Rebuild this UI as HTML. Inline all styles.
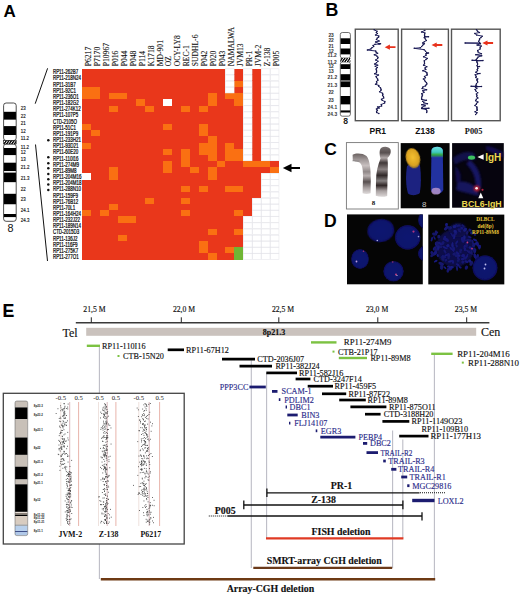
<!DOCTYPE html>
<html><head><meta charset="utf-8"><style>
html,body{margin:0;padding:0;background:#fff;}
body{width:520px;height:597px;overflow:hidden;font-family:"Liberation Sans",sans-serif;}
svg{display:block;}
</style></head><body>
<svg width="520" height="597" viewBox="0 0 520 597">
<text x="3.40" y="16.70" font-family="Liberation Sans" font-size="17" font-weight="bold" fill="#000" text-anchor="start" >A</text>
<g shape-rendering="crispEdges">
<rect x="82.20" y="68.60" width="197.01" height="190.99" fill="#e9371b" />
<rect x="225.48" y="68.6" width="8.96" height="6.16" fill="#fff"/>
<rect x="243.39" y="68.6" width="8.96" height="6.16" fill="#fff"/>
<rect x="261.3" y="68.6" width="8.95" height="6.16" fill="#fff"/>
<rect x="270.25" y="68.6" width="8.96" height="6.16" fill="#fff"/>
<rect x="225.48" y="74.76" width="8.96" height="6.16" fill="#fff"/>
<rect x="243.39" y="74.76" width="8.96" height="6.16" fill="#fff"/>
<rect x="261.3" y="74.76" width="8.95" height="6.16" fill="#fff"/>
<rect x="270.25" y="74.76" width="8.96" height="6.16" fill="#fff"/>
<rect x="225.48" y="80.92" width="8.96" height="6.16" fill="#fff"/>
<rect x="234.44" y="80.92" width="8.95" height="6.16" fill="#fa7012"/>
<rect x="243.39" y="80.92" width="8.96" height="6.16" fill="#fff"/>
<rect x="261.3" y="80.92" width="8.95" height="6.16" fill="#fff"/>
<rect x="270.25" y="80.92" width="8.96" height="6.16" fill="#fff"/>
<rect x="82.2" y="87.08" width="8.96" height="6.16" fill="#fa7012"/>
<rect x="91.16" y="87.08" width="8.95" height="6.16" fill="#fa7012"/>
<rect x="225.48" y="87.08" width="8.96" height="6.16" fill="#fff"/>
<rect x="243.39" y="87.08" width="8.96" height="6.16" fill="#fff"/>
<rect x="261.3" y="87.08" width="8.95" height="6.16" fill="#fff"/>
<rect x="270.25" y="87.08" width="8.96" height="6.16" fill="#fff"/>
<rect x="82.2" y="93.24" width="8.96" height="6.17" fill="#fa7012"/>
<rect x="91.16" y="93.24" width="8.95" height="6.17" fill="#fa7012"/>
<rect x="109.06" y="93.24" width="8.96" height="6.17" fill="#fa7012"/>
<rect x="118.02" y="93.24" width="8.95" height="6.17" fill="#fa7012"/>
<rect x="207.57" y="93.24" width="8.95" height="6.17" fill="#fa7012"/>
<rect x="225.48" y="93.24" width="8.96" height="6.17" fill="#fa7012"/>
<rect x="234.44" y="93.24" width="8.95" height="6.17" fill="#fa7012"/>
<rect x="243.39" y="93.24" width="8.96" height="6.17" fill="#fff"/>
<rect x="261.3" y="93.24" width="8.95" height="6.17" fill="#fff"/>
<rect x="270.25" y="93.24" width="8.96" height="6.17" fill="#fff"/>
<rect x="135.93" y="99.41" width="8.95" height="6.16" fill="#fa7012"/>
<rect x="162.8" y="99.41" width="8.95" height="6.16" fill="#fff"/>
<rect x="207.57" y="99.41" width="8.95" height="6.16" fill="#fa7012"/>
<rect x="234.44" y="99.41" width="8.95" height="6.16" fill="#fa7012"/>
<rect x="243.39" y="99.41" width="8.96" height="6.16" fill="#fff"/>
<rect x="261.3" y="99.41" width="8.95" height="6.16" fill="#fff"/>
<rect x="270.25" y="99.41" width="8.96" height="6.16" fill="#fff"/>
<rect x="109.06" y="105.57" width="8.96" height="6.16" fill="#fa7012"/>
<rect x="144.88" y="105.57" width="8.96" height="6.16" fill="#fa7012"/>
<rect x="180.7" y="105.57" width="8.96" height="6.16" fill="#fa7012"/>
<rect x="198.62" y="105.57" width="8.95" height="6.16" fill="#fa7012"/>
<rect x="243.39" y="105.57" width="8.96" height="6.16" fill="#fff"/>
<rect x="261.3" y="105.57" width="8.95" height="6.16" fill="#fff"/>
<rect x="270.25" y="105.57" width="8.96" height="6.16" fill="#fff"/>
<rect x="243.39" y="111.73" width="8.96" height="6.16" fill="#fff"/>
<rect x="261.3" y="111.73" width="8.95" height="6.16" fill="#fff"/>
<rect x="270.25" y="111.73" width="8.96" height="6.16" fill="#fff"/>
<rect x="243.39" y="117.89" width="8.96" height="6.16" fill="#fff"/>
<rect x="261.3" y="117.89" width="8.95" height="6.16" fill="#fff"/>
<rect x="270.25" y="117.89" width="8.96" height="6.16" fill="#fff"/>
<rect x="82.2" y="124.05" width="8.96" height="6.16" fill="#fa7012"/>
<rect x="162.8" y="124.05" width="8.95" height="6.16" fill="#fa7012"/>
<rect x="198.62" y="124.05" width="8.95" height="6.16" fill="#fa7012"/>
<rect x="243.39" y="124.05" width="8.96" height="6.16" fill="#fff"/>
<rect x="261.3" y="124.05" width="8.95" height="6.16" fill="#fff"/>
<rect x="270.25" y="124.05" width="8.96" height="6.16" fill="#fff"/>
<rect x="91.16" y="130.21" width="8.95" height="6.16" fill="#fa7012"/>
<rect x="198.62" y="130.21" width="8.95" height="6.16" fill="#fa7012"/>
<rect x="243.39" y="130.21" width="8.96" height="6.16" fill="#fff"/>
<rect x="261.3" y="130.21" width="8.95" height="6.16" fill="#fff"/>
<rect x="270.25" y="130.21" width="8.96" height="6.16" fill="#fff"/>
<rect x="207.57" y="136.37" width="8.95" height="6.16" fill="#fa7012"/>
<rect x="243.39" y="136.37" width="8.96" height="6.16" fill="#fff"/>
<rect x="261.3" y="136.37" width="8.95" height="6.16" fill="#fff"/>
<rect x="270.25" y="136.37" width="8.96" height="6.16" fill="#fff"/>
<rect x="82.2" y="142.53" width="8.96" height="6.16" fill="#fa7012"/>
<rect x="198.62" y="142.53" width="8.95" height="6.16" fill="#fa7012"/>
<rect x="207.57" y="142.53" width="8.95" height="6.16" fill="#fa7012"/>
<rect x="225.48" y="142.53" width="8.96" height="6.16" fill="#fa7012"/>
<rect x="243.39" y="142.53" width="8.96" height="6.16" fill="#fff"/>
<rect x="261.3" y="142.53" width="8.95" height="6.16" fill="#fff"/>
<rect x="270.25" y="142.53" width="8.96" height="6.16" fill="#fff"/>
<rect x="162.8" y="148.69" width="8.95" height="6.16" fill="#fa7012"/>
<rect x="180.7" y="148.69" width="8.96" height="6.16" fill="#fa7012"/>
<rect x="198.62" y="148.69" width="8.95" height="6.16" fill="#fa7012"/>
<rect x="207.57" y="148.69" width="8.95" height="6.16" fill="#fa7012"/>
<rect x="225.48" y="148.69" width="8.96" height="6.16" fill="#fa7012"/>
<rect x="234.44" y="148.69" width="8.95" height="6.16" fill="#fa7012"/>
<rect x="243.39" y="148.69" width="8.96" height="6.16" fill="#fff"/>
<rect x="261.3" y="148.69" width="8.95" height="6.16" fill="#fff"/>
<rect x="270.25" y="148.69" width="8.96" height="6.16" fill="#fff"/>
<rect x="180.7" y="154.85" width="8.96" height="6.16" fill="#fa7012"/>
<rect x="207.57" y="154.85" width="8.95" height="6.16" fill="#fa7012"/>
<rect x="225.48" y="154.85" width="8.96" height="6.16" fill="#fa7012"/>
<rect x="234.44" y="154.85" width="8.95" height="6.16" fill="#fa7012"/>
<rect x="243.39" y="154.85" width="8.96" height="6.16" fill="#fff"/>
<rect x="261.3" y="154.85" width="8.95" height="6.16" fill="#fff"/>
<rect x="270.25" y="154.85" width="8.96" height="6.16" fill="#fff"/>
<rect x="162.8" y="161.01" width="8.95" height="6.17" fill="#fa7012"/>
<rect x="180.7" y="161.01" width="8.96" height="6.17" fill="#fa7012"/>
<rect x="216.52" y="161.01" width="8.96" height="6.17" fill="#fa7012"/>
<rect x="243.39" y="161.01" width="8.96" height="6.17" fill="#fa7012"/>
<rect x="252.35" y="161.01" width="8.95" height="6.17" fill="#fa7012"/>
<rect x="261.3" y="161.01" width="8.95" height="6.17" fill="#fa7012"/>
<rect x="109.06" y="167.18" width="8.96" height="6.16" fill="#fa7012"/>
<rect x="162.8" y="167.18" width="8.95" height="6.16" fill="#fa7012"/>
<rect x="189.66" y="167.18" width="8.96" height="6.16" fill="#fa7012"/>
<rect x="207.57" y="167.18" width="8.95" height="6.16" fill="#fa7012"/>
<rect x="270.25" y="167.18" width="8.96" height="6.16" fill="#fa7012"/>
<rect x="82.2" y="173.34" width="8.96" height="6.16" fill="#fff"/>
<rect x="109.06" y="173.34" width="8.96" height="6.16" fill="#fa7012"/>
<rect x="207.57" y="173.34" width="8.95" height="6.16" fill="#fa7012"/>
<rect x="261.3" y="173.34" width="8.95" height="6.16" fill="#fff"/>
<rect x="270.25" y="173.34" width="8.96" height="6.16" fill="#fff"/>
<rect x="261.3" y="179.5" width="8.95" height="6.16" fill="#fff"/>
<rect x="270.25" y="179.5" width="8.96" height="6.16" fill="#fff"/>
<rect x="180.7" y="185.66" width="8.96" height="6.16" fill="#fa7012"/>
<rect x="198.62" y="185.66" width="8.95" height="6.16" fill="#fa7012"/>
<rect x="225.48" y="185.66" width="8.96" height="6.16" fill="#fa7012"/>
<rect x="234.44" y="185.66" width="8.95" height="6.16" fill="#fa7012"/>
<rect x="261.3" y="185.66" width="8.95" height="6.16" fill="#fff"/>
<rect x="270.25" y="185.66" width="8.96" height="6.16" fill="#fff"/>
<rect x="261.3" y="191.82" width="8.95" height="6.16" fill="#fff"/>
<rect x="270.25" y="191.82" width="8.96" height="6.16" fill="#fff"/>
<rect x="144.88" y="197.98" width="8.96" height="6.16" fill="#fa7012"/>
<rect x="180.7" y="197.98" width="8.96" height="6.16" fill="#fa7012"/>
<rect x="252.35" y="197.98" width="8.95" height="6.16" fill="#fff"/>
<rect x="261.3" y="197.98" width="8.95" height="6.16" fill="#fff"/>
<rect x="270.25" y="197.98" width="8.96" height="6.16" fill="#fff"/>
<rect x="109.06" y="204.14" width="8.96" height="6.16" fill="#fa7012"/>
<rect x="252.35" y="204.14" width="8.95" height="6.16" fill="#fff"/>
<rect x="261.3" y="204.14" width="8.95" height="6.16" fill="#fff"/>
<rect x="270.25" y="204.14" width="8.96" height="6.16" fill="#fff"/>
<rect x="82.2" y="210.3" width="8.96" height="6.16" fill="#fa7012"/>
<rect x="100.11" y="210.3" width="8.95" height="6.16" fill="#fa7012"/>
<rect x="180.7" y="210.3" width="8.96" height="6.16" fill="#fa7012"/>
<rect x="234.44" y="210.3" width="8.95" height="6.16" fill="#fa7012"/>
<rect x="252.35" y="210.3" width="8.95" height="6.16" fill="#fff"/>
<rect x="261.3" y="210.3" width="8.95" height="6.16" fill="#fff"/>
<rect x="270.25" y="210.3" width="8.96" height="6.16" fill="#fff"/>
<rect x="118.02" y="216.46" width="8.95" height="6.16" fill="#fa7012"/>
<rect x="126.97" y="216.46" width="8.96" height="6.16" fill="#fa7012"/>
<rect x="243.39" y="216.46" width="8.96" height="6.16" fill="#fff"/>
<rect x="252.35" y="216.46" width="8.95" height="6.16" fill="#fff"/>
<rect x="261.3" y="216.46" width="8.95" height="6.16" fill="#fff"/>
<rect x="270.25" y="216.46" width="8.96" height="6.16" fill="#fff"/>
<rect x="243.39" y="222.62" width="8.96" height="6.17" fill="#fff"/>
<rect x="252.35" y="222.62" width="8.95" height="6.17" fill="#fff"/>
<rect x="261.3" y="222.62" width="8.95" height="6.17" fill="#fff"/>
<rect x="270.25" y="222.62" width="8.96" height="6.17" fill="#fff"/>
<rect x="207.57" y="228.79" width="8.95" height="6.16" fill="#fa7012"/>
<rect x="234.44" y="228.79" width="8.95" height="6.16" fill="#fa7012"/>
<rect x="243.39" y="228.79" width="8.96" height="6.16" fill="#fff"/>
<rect x="252.35" y="228.79" width="8.95" height="6.16" fill="#fff"/>
<rect x="261.3" y="228.79" width="8.95" height="6.16" fill="#fff"/>
<rect x="270.25" y="228.79" width="8.96" height="6.16" fill="#fff"/>
<rect x="118.02" y="234.95" width="8.95" height="6.16" fill="#fa7012"/>
<rect x="243.39" y="234.95" width="8.96" height="6.16" fill="#fff"/>
<rect x="252.35" y="234.95" width="8.95" height="6.16" fill="#fff"/>
<rect x="261.3" y="234.95" width="8.95" height="6.16" fill="#fff"/>
<rect x="270.25" y="234.95" width="8.96" height="6.16" fill="#fff"/>
<rect x="198.62" y="241.11" width="8.95" height="6.16" fill="#fa7012"/>
<rect x="243.39" y="241.11" width="8.96" height="6.16" fill="#fff"/>
<rect x="252.35" y="241.11" width="8.95" height="6.16" fill="#fff"/>
<rect x="261.3" y="241.11" width="8.95" height="6.16" fill="#fff"/>
<rect x="270.25" y="241.11" width="8.96" height="6.16" fill="#fff"/>
<rect x="198.62" y="247.27" width="8.95" height="6.16" fill="#fa7012"/>
<rect x="225.48" y="247.27" width="8.96" height="6.16" fill="#fa7012"/>
<rect x="234.44" y="247.27" width="8.95" height="6.16" fill="#6fb534"/>
<rect x="243.39" y="247.27" width="8.96" height="6.16" fill="#fff"/>
<rect x="252.35" y="247.27" width="8.95" height="6.16" fill="#fff"/>
<rect x="261.3" y="247.27" width="8.95" height="6.16" fill="#fff"/>
<rect x="270.25" y="247.27" width="8.96" height="6.16" fill="#fff"/>
<rect x="207.57" y="253.43" width="8.95" height="6.16" fill="#fa7012"/>
<rect x="234.44" y="253.43" width="8.95" height="6.16" fill="#6fb534"/>
<rect x="243.39" y="253.43" width="8.96" height="6.16" fill="#fff"/>
<rect x="252.35" y="253.43" width="8.95" height="6.16" fill="#fff"/>
<rect x="261.3" y="253.43" width="8.95" height="6.16" fill="#fff"/>
<rect x="270.25" y="253.43" width="8.96" height="6.16" fill="#fff"/>
</g>
<rect x="225.73" y="68.85" width="8.46" height="5.66" fill="none" stroke="#e2e2e8" stroke-width="0.5"/>
<rect x="243.64" y="68.85" width="8.46" height="5.66" fill="none" stroke="#e2e2e8" stroke-width="0.5"/>
<rect x="261.55" y="68.85" width="8.46" height="5.66" fill="none" stroke="#e2e2e8" stroke-width="0.5"/>
<rect x="270.50" y="68.85" width="8.46" height="5.66" fill="none" stroke="#e2e2e8" stroke-width="0.5"/>
<rect x="225.73" y="75.01" width="8.46" height="5.66" fill="none" stroke="#e2e2e8" stroke-width="0.5"/>
<rect x="243.64" y="75.01" width="8.46" height="5.66" fill="none" stroke="#e2e2e8" stroke-width="0.5"/>
<rect x="261.55" y="75.01" width="8.46" height="5.66" fill="none" stroke="#e2e2e8" stroke-width="0.5"/>
<rect x="270.50" y="75.01" width="8.46" height="5.66" fill="none" stroke="#e2e2e8" stroke-width="0.5"/>
<rect x="225.73" y="81.17" width="8.46" height="5.66" fill="none" stroke="#e2e2e8" stroke-width="0.5"/>
<rect x="243.64" y="81.17" width="8.46" height="5.66" fill="none" stroke="#e2e2e8" stroke-width="0.5"/>
<rect x="261.55" y="81.17" width="8.46" height="5.66" fill="none" stroke="#e2e2e8" stroke-width="0.5"/>
<rect x="270.50" y="81.17" width="8.46" height="5.66" fill="none" stroke="#e2e2e8" stroke-width="0.5"/>
<rect x="225.73" y="87.33" width="8.46" height="5.66" fill="none" stroke="#e2e2e8" stroke-width="0.5"/>
<rect x="243.64" y="87.33" width="8.46" height="5.66" fill="none" stroke="#e2e2e8" stroke-width="0.5"/>
<rect x="261.55" y="87.33" width="8.46" height="5.66" fill="none" stroke="#e2e2e8" stroke-width="0.5"/>
<rect x="270.50" y="87.33" width="8.46" height="5.66" fill="none" stroke="#e2e2e8" stroke-width="0.5"/>
<rect x="243.64" y="93.49" width="8.46" height="5.66" fill="none" stroke="#e2e2e8" stroke-width="0.5"/>
<rect x="261.55" y="93.49" width="8.46" height="5.66" fill="none" stroke="#e2e2e8" stroke-width="0.5"/>
<rect x="270.50" y="93.49" width="8.46" height="5.66" fill="none" stroke="#e2e2e8" stroke-width="0.5"/>
<rect x="243.64" y="99.66" width="8.46" height="5.66" fill="none" stroke="#e2e2e8" stroke-width="0.5"/>
<rect x="261.55" y="99.66" width="8.46" height="5.66" fill="none" stroke="#e2e2e8" stroke-width="0.5"/>
<rect x="270.50" y="99.66" width="8.46" height="5.66" fill="none" stroke="#e2e2e8" stroke-width="0.5"/>
<rect x="243.64" y="105.82" width="8.46" height="5.66" fill="none" stroke="#e2e2e8" stroke-width="0.5"/>
<rect x="261.55" y="105.82" width="8.46" height="5.66" fill="none" stroke="#e2e2e8" stroke-width="0.5"/>
<rect x="270.50" y="105.82" width="8.46" height="5.66" fill="none" stroke="#e2e2e8" stroke-width="0.5"/>
<rect x="243.64" y="111.98" width="8.46" height="5.66" fill="none" stroke="#e2e2e8" stroke-width="0.5"/>
<rect x="261.55" y="111.98" width="8.46" height="5.66" fill="none" stroke="#e2e2e8" stroke-width="0.5"/>
<rect x="270.50" y="111.98" width="8.46" height="5.66" fill="none" stroke="#e2e2e8" stroke-width="0.5"/>
<rect x="243.64" y="118.14" width="8.46" height="5.66" fill="none" stroke="#e2e2e8" stroke-width="0.5"/>
<rect x="261.55" y="118.14" width="8.46" height="5.66" fill="none" stroke="#e2e2e8" stroke-width="0.5"/>
<rect x="270.50" y="118.14" width="8.46" height="5.66" fill="none" stroke="#e2e2e8" stroke-width="0.5"/>
<rect x="243.64" y="124.30" width="8.46" height="5.66" fill="none" stroke="#e2e2e8" stroke-width="0.5"/>
<rect x="261.55" y="124.30" width="8.46" height="5.66" fill="none" stroke="#e2e2e8" stroke-width="0.5"/>
<rect x="270.50" y="124.30" width="8.46" height="5.66" fill="none" stroke="#e2e2e8" stroke-width="0.5"/>
<rect x="243.64" y="130.46" width="8.46" height="5.66" fill="none" stroke="#e2e2e8" stroke-width="0.5"/>
<rect x="261.55" y="130.46" width="8.46" height="5.66" fill="none" stroke="#e2e2e8" stroke-width="0.5"/>
<rect x="270.50" y="130.46" width="8.46" height="5.66" fill="none" stroke="#e2e2e8" stroke-width="0.5"/>
<rect x="243.64" y="136.62" width="8.46" height="5.66" fill="none" stroke="#e2e2e8" stroke-width="0.5"/>
<rect x="261.55" y="136.62" width="8.46" height="5.66" fill="none" stroke="#e2e2e8" stroke-width="0.5"/>
<rect x="270.50" y="136.62" width="8.46" height="5.66" fill="none" stroke="#e2e2e8" stroke-width="0.5"/>
<rect x="243.64" y="142.78" width="8.46" height="5.66" fill="none" stroke="#e2e2e8" stroke-width="0.5"/>
<rect x="261.55" y="142.78" width="8.46" height="5.66" fill="none" stroke="#e2e2e8" stroke-width="0.5"/>
<rect x="270.50" y="142.78" width="8.46" height="5.66" fill="none" stroke="#e2e2e8" stroke-width="0.5"/>
<rect x="243.64" y="148.94" width="8.46" height="5.66" fill="none" stroke="#e2e2e8" stroke-width="0.5"/>
<rect x="261.55" y="148.94" width="8.46" height="5.66" fill="none" stroke="#e2e2e8" stroke-width="0.5"/>
<rect x="270.50" y="148.94" width="8.46" height="5.66" fill="none" stroke="#e2e2e8" stroke-width="0.5"/>
<rect x="243.64" y="155.10" width="8.46" height="5.66" fill="none" stroke="#e2e2e8" stroke-width="0.5"/>
<rect x="261.55" y="155.10" width="8.46" height="5.66" fill="none" stroke="#e2e2e8" stroke-width="0.5"/>
<rect x="270.50" y="155.10" width="8.46" height="5.66" fill="none" stroke="#e2e2e8" stroke-width="0.5"/>
<rect x="261.55" y="173.59" width="8.46" height="5.66" fill="none" stroke="#e2e2e8" stroke-width="0.5"/>
<rect x="270.50" y="173.59" width="8.46" height="5.66" fill="none" stroke="#e2e2e8" stroke-width="0.5"/>
<rect x="261.55" y="179.75" width="8.46" height="5.66" fill="none" stroke="#e2e2e8" stroke-width="0.5"/>
<rect x="270.50" y="179.75" width="8.46" height="5.66" fill="none" stroke="#e2e2e8" stroke-width="0.5"/>
<rect x="261.55" y="185.91" width="8.46" height="5.66" fill="none" stroke="#e2e2e8" stroke-width="0.5"/>
<rect x="270.50" y="185.91" width="8.46" height="5.66" fill="none" stroke="#e2e2e8" stroke-width="0.5"/>
<rect x="261.55" y="192.07" width="8.46" height="5.66" fill="none" stroke="#e2e2e8" stroke-width="0.5"/>
<rect x="270.50" y="192.07" width="8.46" height="5.66" fill="none" stroke="#e2e2e8" stroke-width="0.5"/>
<rect x="252.60" y="198.23" width="8.46" height="5.66" fill="none" stroke="#e2e2e8" stroke-width="0.5"/>
<rect x="261.55" y="198.23" width="8.46" height="5.66" fill="none" stroke="#e2e2e8" stroke-width="0.5"/>
<rect x="270.50" y="198.23" width="8.46" height="5.66" fill="none" stroke="#e2e2e8" stroke-width="0.5"/>
<rect x="252.60" y="204.39" width="8.46" height="5.66" fill="none" stroke="#e2e2e8" stroke-width="0.5"/>
<rect x="261.55" y="204.39" width="8.46" height="5.66" fill="none" stroke="#e2e2e8" stroke-width="0.5"/>
<rect x="270.50" y="204.39" width="8.46" height="5.66" fill="none" stroke="#e2e2e8" stroke-width="0.5"/>
<rect x="252.60" y="210.55" width="8.46" height="5.66" fill="none" stroke="#e2e2e8" stroke-width="0.5"/>
<rect x="261.55" y="210.55" width="8.46" height="5.66" fill="none" stroke="#e2e2e8" stroke-width="0.5"/>
<rect x="270.50" y="210.55" width="8.46" height="5.66" fill="none" stroke="#e2e2e8" stroke-width="0.5"/>
<rect x="243.64" y="216.71" width="8.46" height="5.66" fill="none" stroke="#e2e2e8" stroke-width="0.5"/>
<rect x="252.60" y="216.71" width="8.46" height="5.66" fill="none" stroke="#e2e2e8" stroke-width="0.5"/>
<rect x="261.55" y="216.71" width="8.46" height="5.66" fill="none" stroke="#e2e2e8" stroke-width="0.5"/>
<rect x="270.50" y="216.71" width="8.46" height="5.66" fill="none" stroke="#e2e2e8" stroke-width="0.5"/>
<rect x="243.64" y="222.87" width="8.46" height="5.66" fill="none" stroke="#e2e2e8" stroke-width="0.5"/>
<rect x="252.60" y="222.87" width="8.46" height="5.66" fill="none" stroke="#e2e2e8" stroke-width="0.5"/>
<rect x="261.55" y="222.87" width="8.46" height="5.66" fill="none" stroke="#e2e2e8" stroke-width="0.5"/>
<rect x="270.50" y="222.87" width="8.46" height="5.66" fill="none" stroke="#e2e2e8" stroke-width="0.5"/>
<rect x="243.64" y="229.04" width="8.46" height="5.66" fill="none" stroke="#e2e2e8" stroke-width="0.5"/>
<rect x="252.60" y="229.04" width="8.46" height="5.66" fill="none" stroke="#e2e2e8" stroke-width="0.5"/>
<rect x="261.55" y="229.04" width="8.46" height="5.66" fill="none" stroke="#e2e2e8" stroke-width="0.5"/>
<rect x="270.50" y="229.04" width="8.46" height="5.66" fill="none" stroke="#e2e2e8" stroke-width="0.5"/>
<rect x="243.64" y="235.20" width="8.46" height="5.66" fill="none" stroke="#e2e2e8" stroke-width="0.5"/>
<rect x="252.60" y="235.20" width="8.46" height="5.66" fill="none" stroke="#e2e2e8" stroke-width="0.5"/>
<rect x="261.55" y="235.20" width="8.46" height="5.66" fill="none" stroke="#e2e2e8" stroke-width="0.5"/>
<rect x="270.50" y="235.20" width="8.46" height="5.66" fill="none" stroke="#e2e2e8" stroke-width="0.5"/>
<rect x="243.64" y="241.36" width="8.46" height="5.66" fill="none" stroke="#e2e2e8" stroke-width="0.5"/>
<rect x="252.60" y="241.36" width="8.46" height="5.66" fill="none" stroke="#e2e2e8" stroke-width="0.5"/>
<rect x="261.55" y="241.36" width="8.46" height="5.66" fill="none" stroke="#e2e2e8" stroke-width="0.5"/>
<rect x="270.50" y="241.36" width="8.46" height="5.66" fill="none" stroke="#e2e2e8" stroke-width="0.5"/>
<rect x="243.64" y="247.52" width="8.46" height="5.66" fill="none" stroke="#e2e2e8" stroke-width="0.5"/>
<rect x="252.60" y="247.52" width="8.46" height="5.66" fill="none" stroke="#e2e2e8" stroke-width="0.5"/>
<rect x="261.55" y="247.52" width="8.46" height="5.66" fill="none" stroke="#e2e2e8" stroke-width="0.5"/>
<rect x="270.50" y="247.52" width="8.46" height="5.66" fill="none" stroke="#e2e2e8" stroke-width="0.5"/>
<rect x="243.64" y="253.68" width="8.46" height="5.66" fill="none" stroke="#e2e2e8" stroke-width="0.5"/>
<rect x="252.60" y="253.68" width="8.46" height="5.66" fill="none" stroke="#e2e2e8" stroke-width="0.5"/>
<rect x="261.55" y="253.68" width="8.46" height="5.66" fill="none" stroke="#e2e2e8" stroke-width="0.5"/>
<rect x="270.50" y="253.68" width="8.46" height="5.66" fill="none" stroke="#e2e2e8" stroke-width="0.5"/>
<text transform="translate(90.88,66.2) rotate(-90)" font-family="Liberation Serif" font-size="7.6" fill="#111" stroke="#111" stroke-width="0.1">P6217</text>
<text transform="translate(99.83,66.2) rotate(-90)" font-family="Liberation Serif" font-size="7.6" fill="#111" stroke="#111" stroke-width="0.1">P7170</text>
<text transform="translate(108.79,66.2) rotate(-90)" font-family="Liberation Serif" font-size="7.6" fill="#111" stroke="#111" stroke-width="0.1">P10967</text>
<text transform="translate(117.74,66.2) rotate(-90)" font-family="Liberation Serif" font-size="7.6" fill="#111" stroke="#111" stroke-width="0.1">P016</text>
<text transform="translate(126.70,66.2) rotate(-90)" font-family="Liberation Serif" font-size="7.6" fill="#111" stroke="#111" stroke-width="0.1">P044</text>
<text transform="translate(135.65,66.2) rotate(-90)" font-family="Liberation Serif" font-size="7.6" fill="#111" stroke="#111" stroke-width="0.1">P048</text>
<text transform="translate(144.61,66.2) rotate(-90)" font-family="Liberation Serif" font-size="7.6" fill="#111" stroke="#111" stroke-width="0.1">P114</text>
<text transform="translate(153.56,66.2) rotate(-90)" font-family="Liberation Serif" font-size="7.6" fill="#111" stroke="#111" stroke-width="0.1">K1718</text>
<text transform="translate(162.52,66.2) rotate(-90)" font-family="Liberation Serif" font-size="7.6" fill="#111" stroke="#111" stroke-width="0.1">MD-901</text>
<text transform="translate(171.47,66.2) rotate(-90)" font-family="Liberation Serif" font-size="7.6" fill="#111" stroke="#111" stroke-width="0.1">OZ</text>
<text transform="translate(180.43,66.2) rotate(-90)" font-family="Liberation Serif" font-size="7.6" fill="#111" stroke="#111" stroke-width="0.1">OCY-LY8</text>
<text transform="translate(189.38,66.2) rotate(-90)" font-family="Liberation Serif" font-size="7.6" fill="#111" stroke="#111" stroke-width="0.1">REC-1</text>
<text transform="translate(198.34,66.2) rotate(-90)" font-family="Liberation Serif" font-size="7.6" fill="#111" stroke="#111" stroke-width="0.1">SUDHL-6</text>
<text transform="translate(207.29,66.2) rotate(-90)" font-family="Liberation Serif" font-size="7.6" fill="#111" stroke="#111" stroke-width="0.1">P042</text>
<text transform="translate(216.25,66.2) rotate(-90)" font-family="Liberation Serif" font-size="7.6" fill="#111" stroke="#111" stroke-width="0.1">P020</text>
<text transform="translate(225.20,66.2) rotate(-90)" font-family="Liberation Serif" font-size="7.6" fill="#111" stroke="#111" stroke-width="0.1">P043</text>
<text transform="translate(234.16,66.2) rotate(-90)" font-family="Liberation Serif" font-size="7.6" fill="#111" stroke="#111" stroke-width="0.1">NAMALWA</text>
<text transform="translate(243.11,66.2) rotate(-90)" font-family="Liberation Serif" font-size="7.6" fill="#111" stroke="#111" stroke-width="0.1">JVM13</text>
<text transform="translate(252.07,66.2) rotate(-90)" font-family="Liberation Serif" font-size="7.6" fill="#111" stroke="#111" stroke-width="0.1">PR-1</text>
<text transform="translate(261.02,66.2) rotate(-90)" font-family="Liberation Serif" font-size="7.6" fill="#111" stroke="#111" stroke-width="0.1">JVM-2</text>
<text transform="translate(269.98,66.2) rotate(-90)" font-family="Liberation Serif" font-size="7.6" fill="#111" stroke="#111" stroke-width="0.1">Z-138</text>
<text transform="translate(278.93,66.2) rotate(-90)" font-family="Liberation Serif" font-size="7.6" fill="#111" stroke="#111" stroke-width="0.1">P005</text>
<text transform="translate(52.9,74.28) scale(0.68,1)" font-family="Liberation Sans" font-size="6.6" fill="#000" stroke="#000" stroke-width="0.22">RP11-262B7</text>
<text transform="translate(52.9,80.44) scale(0.68,1)" font-family="Liberation Sans" font-size="6.6" fill="#000" stroke="#000" stroke-width="0.22">RP11-218N24</text>
<text transform="translate(52.9,86.60) scale(0.68,1)" font-family="Liberation Sans" font-size="6.6" fill="#000" stroke="#000" stroke-width="0.22">RP11-31B7</text>
<text transform="translate(52.9,92.76) scale(0.68,1)" font-family="Liberation Sans" font-size="6.6" fill="#000" stroke="#000" stroke-width="0.22">RP11-92C1</text>
<text transform="translate(52.9,98.92) scale(0.68,1)" font-family="Liberation Sans" font-size="6.6" fill="#000" stroke="#000" stroke-width="0.22">RP11-236O1</text>
<text transform="translate(52.9,105.09) scale(0.68,1)" font-family="Liberation Sans" font-size="6.6" fill="#000" stroke="#000" stroke-width="0.22">RP11-182G2</text>
<text transform="translate(52.9,111.25) scale(0.68,1)" font-family="Liberation Sans" font-size="6.6" fill="#000" stroke="#000" stroke-width="0.22">RP11-274K12</text>
<text transform="translate(52.9,117.41) scale(0.68,1)" font-family="Liberation Sans" font-size="6.6" fill="#000" stroke="#000" stroke-width="0.22">RP11-107P5</text>
<text transform="translate(52.9,123.57) scale(0.68,1)" font-family="Liberation Sans" font-size="6.6" fill="#000" stroke="#000" stroke-width="0.22">CTD-2105O</text>
<text transform="translate(52.9,129.73) scale(0.68,1)" font-family="Liberation Sans" font-size="6.6" fill="#000" stroke="#000" stroke-width="0.22">RP11-51C1</text>
<text transform="translate(52.9,135.89) scale(0.68,1)" font-family="Liberation Sans" font-size="6.6" fill="#000" stroke="#000" stroke-width="0.22">RP11-191P9</text>
<text transform="translate(52.9,142.05) scale(0.68,1)" font-family="Liberation Sans" font-size="6.6" fill="#000" stroke="#000" stroke-width="0.22">RP11-233H21</text>
<text transform="translate(52.9,148.21) scale(0.68,1)" font-family="Liberation Sans" font-size="6.6" fill="#000" stroke="#000" stroke-width="0.22">RP11-93D21</text>
<text transform="translate(52.9,154.37) scale(0.68,1)" font-family="Liberation Sans" font-size="6.6" fill="#000" stroke="#000" stroke-width="0.22">RP11-60E20</text>
<text transform="translate(52.9,160.53) scale(0.68,1)" font-family="Liberation Sans" font-size="6.6" fill="#000" stroke="#000" stroke-width="0.22">RP11-110I16</text>
<text transform="translate(52.9,166.70) scale(0.68,1)" font-family="Liberation Sans" font-size="6.6" fill="#000" stroke="#000" stroke-width="0.22">RP11-274M9</text>
<text transform="translate(52.9,172.86) scale(0.68,1)" font-family="Liberation Sans" font-size="6.6" fill="#000" stroke="#000" stroke-width="0.22">RP11-89M8</text>
<text transform="translate(52.9,179.02) scale(0.68,1)" font-family="Liberation Sans" font-size="6.6" fill="#000" stroke="#000" stroke-width="0.22">RP11-204M16</text>
<text transform="translate(52.9,185.18) scale(0.68,1)" font-family="Liberation Sans" font-size="6.6" fill="#000" stroke="#000" stroke-width="0.22">RP11-204M18</text>
<text transform="translate(52.9,191.34) scale(0.68,1)" font-family="Liberation Sans" font-size="6.6" fill="#000" stroke="#000" stroke-width="0.22">RP11-288N10</text>
<text transform="translate(52.9,197.50) scale(0.68,1)" font-family="Liberation Sans" font-size="6.6" fill="#000" stroke="#000" stroke-width="0.22">RP11-159F9</text>
<text transform="translate(52.9,203.66) scale(0.68,1)" font-family="Liberation Sans" font-size="6.6" fill="#000" stroke="#000" stroke-width="0.22">RP11-76B12</text>
<text transform="translate(52.9,209.82) scale(0.68,1)" font-family="Liberation Sans" font-size="6.6" fill="#000" stroke="#000" stroke-width="0.22">RP11-70L1</text>
<text transform="translate(52.9,215.98) scale(0.68,1)" font-family="Liberation Sans" font-size="6.6" fill="#000" stroke="#000" stroke-width="0.22">RP11-164H24</text>
<text transform="translate(52.9,222.14) scale(0.68,1)" font-family="Liberation Sans" font-size="6.6" fill="#000" stroke="#000" stroke-width="0.22">RP11-232J22</text>
<text transform="translate(52.9,228.31) scale(0.68,1)" font-family="Liberation Sans" font-size="6.6" fill="#000" stroke="#000" stroke-width="0.22">RP11-189N14</text>
<text transform="translate(52.9,234.47) scale(0.68,1)" font-family="Liberation Sans" font-size="6.6" fill="#000" stroke="#000" stroke-width="0.22">CTD-2015D3</text>
<text transform="translate(52.9,240.63) scale(0.68,1)" font-family="Liberation Sans" font-size="6.6" fill="#000" stroke="#000" stroke-width="0.22">RP11-136J2</text>
<text transform="translate(52.9,246.79) scale(0.68,1)" font-family="Liberation Sans" font-size="6.6" fill="#000" stroke="#000" stroke-width="0.22">RP11-116F9</text>
<text transform="translate(52.9,252.95) scale(0.68,1)" font-family="Liberation Sans" font-size="6.6" fill="#000" stroke="#000" stroke-width="0.22">RP11-275K7</text>
<text transform="translate(52.9,259.11) scale(0.68,1)" font-family="Liberation Sans" font-size="6.6" fill="#000" stroke="#000" stroke-width="0.22">RP11-277O1</text>
<circle cx="48.3" cy="140.30" r="1.25" fill="#111"/>
<circle cx="48.3" cy="157.20" r="1.25" fill="#111"/>
<circle cx="48.3" cy="163.20" r="1.25" fill="#111"/>
<circle cx="48.3" cy="168.30" r="1.25" fill="#111"/>
<circle cx="48.3" cy="174.00" r="1.25" fill="#111"/>
<circle cx="48.3" cy="179.20" r="1.25" fill="#111"/>
<circle cx="48.3" cy="184.60" r="1.25" fill="#111"/>
<circle cx="48.3" cy="190.00" r="1.25" fill="#111"/>
<line x1="35.20" y1="103.70" x2="47.60" y2="68.30" stroke="#111" stroke-width="1" />
<line x1="35.50" y1="144.50" x2="47.50" y2="261.00" stroke="#111" stroke-width="1" />
<path d="M282.8,168 L291.5,163.8 L291.5,172.2 Z" fill="#000"/>
<line x1="290.00" y1="168.00" x2="300.00" y2="168.00" stroke="#000" stroke-width="2" />
<defs><clipPath id="cpA"><rect x="3.6" y="103" width="12.6" height="37.6" rx="2.5"/><rect x="3.6" y="144" width="12.6" height="77.3" rx="2.5"/></clipPath><pattern id="hatch" width="2.6" height="4" patternUnits="userSpaceOnUse" patternTransform="skewX(-35)"><rect width="2.6" height="4" fill="#fff"/><rect width="1.6" height="4" fill="#000"/></pattern></defs>
<g clip-path="url(#cpA)">
<rect x="3.60" y="103.00" width="12.60" height="8.80" fill="#fff" />
<rect x="3.60" y="111.80" width="12.60" height="8.00" fill="#000" />
<rect x="3.60" y="119.80" width="12.60" height="6.30" fill="#fff" />
<rect x="3.60" y="126.10" width="12.60" height="8.90" fill="#000" />
<rect x="3.60" y="135.00" width="12.60" height="5.60" fill="#fff" />
<rect x="3.60" y="144.00" width="12.60" height="4.00" fill="#fff" />
<rect x="3.60" y="148.00" width="12.60" height="7.30" fill="#000" />
<rect x="3.60" y="155.30" width="12.60" height="7.40" fill="#fff" />
<rect x="3.60" y="162.70" width="12.60" height="8.50" fill="#000" />
<rect x="3.60" y="171.20" width="12.60" height="1.40" fill="#fff" />
<rect x="3.60" y="172.60" width="12.60" height="9.80" fill="#000" />
<rect x="3.60" y="182.40" width="12.60" height="11.40" fill="#fff" />
<rect x="3.60" y="193.80" width="12.60" height="10.70" fill="#000" />
<rect x="3.60" y="204.50" width="12.60" height="9.50" fill="#fff" />
<rect x="3.60" y="214.00" width="12.60" height="3.30" fill="#000" />
<rect x="3.60" y="217.30" width="12.60" height="4.00" fill="#fff" />
</g>
<rect x="3.6" y="103" width="12.6" height="37.6" rx="2.5" fill="none" stroke="#222" stroke-width="0.8"/>
<rect x="3.6" y="144" width="12.6" height="77.3" rx="2.5" fill="none" stroke="#222" stroke-width="0.8"/>
<rect x="3.60" y="140.60" width="12.60" height="3.40" fill="url(#hatch)" />
<rect x="3.6" y="140.6" width="12.6" height="3.4" fill="none" stroke="#222" stroke-width="0.6"/>
<text transform="translate(20.8,109.80) scale(0.85,1)" font-family="Liberation Sans" font-size="5.2" fill="#111" stroke="#111" stroke-width="0.15">23</text>
<text transform="translate(20.8,117.60) scale(0.85,1)" font-family="Liberation Sans" font-size="5.2" fill="#111" stroke="#111" stroke-width="0.15">22</text>
<text transform="translate(20.8,125.40) scale(0.85,1)" font-family="Liberation Sans" font-size="5.2" fill="#111" stroke="#111" stroke-width="0.15">21</text>
<text transform="translate(20.8,132.80) scale(0.85,1)" font-family="Liberation Sans" font-size="5.2" fill="#111" stroke="#111" stroke-width="0.15">12</text>
<text transform="translate(20.8,139.50) scale(0.85,1)" font-family="Liberation Sans" font-size="5.2" fill="#111" stroke="#111" stroke-width="0.15">11.2</text>
<text transform="translate(20.8,148.60) scale(0.85,1)" font-family="Liberation Sans" font-size="5.2" fill="#111" stroke="#111" stroke-width="0.15">11.2</text>
<text transform="translate(20.8,154.20) scale(0.85,1)" font-family="Liberation Sans" font-size="5.2" fill="#111" stroke="#111" stroke-width="0.15">12</text>
<text transform="translate(20.8,161.40) scale(0.85,1)" font-family="Liberation Sans" font-size="5.2" fill="#111" stroke="#111" stroke-width="0.15">13</text>
<text transform="translate(20.8,169.20) scale(0.85,1)" font-family="Liberation Sans" font-size="5.2" fill="#111" stroke="#111" stroke-width="0.15">21.2</text>
<text transform="translate(20.8,179.80) scale(0.85,1)" font-family="Liberation Sans" font-size="5.2" fill="#111" stroke="#111" stroke-width="0.15">21.3</text>
<text transform="translate(20.8,190.80) scale(0.85,1)" font-family="Liberation Sans" font-size="5.2" fill="#111" stroke="#111" stroke-width="0.15">22</text>
<text transform="translate(20.8,201.30) scale(0.85,1)" font-family="Liberation Sans" font-size="5.2" fill="#111" stroke="#111" stroke-width="0.15">23</text>
<text transform="translate(20.8,211.80) scale(0.85,1)" font-family="Liberation Sans" font-size="5.2" fill="#111" stroke="#111" stroke-width="0.15">24.1</text>
<text transform="translate(20.8,221.80) scale(0.85,1)" font-family="Liberation Sans" font-size="5.2" fill="#111" stroke="#111" stroke-width="0.15">24.3</text>
<text x="10.40" y="232.00" font-family="Liberation Sans" font-size="10.8" font-weight="normal" fill="#111" text-anchor="middle" >8</text>
<text x="325.60" y="15.90" font-family="Liberation Sans" font-size="17.8" font-weight="bold" fill="#000" text-anchor="start" >B</text>
<defs><clipPath id="cpB"><rect x="340.3" y="32.5" width="10.1" height="25.5" rx="2"/><rect x="340.3" y="62" width="10.1" height="54.2" rx="2"/></clipPath></defs>
<g clip-path="url(#cpB)">
<rect x="340.30" y="32.50" width="10.10" height="5.80" fill="#fff" />
<rect x="340.30" y="38.30" width="10.10" height="5.70" fill="#000" />
<rect x="340.30" y="44.00" width="10.10" height="4.50" fill="#fff" />
<rect x="340.30" y="48.50" width="10.10" height="6.10" fill="#000" />
<rect x="340.30" y="54.60" width="10.10" height="3.40" fill="#fff" />
<rect x="340.30" y="62.00" width="10.10" height="2.20" fill="#fff" />
<rect x="340.30" y="64.20" width="10.10" height="4.80" fill="#000" />
<rect x="340.30" y="69.00" width="10.10" height="5.20" fill="#fff" />
<rect x="340.30" y="74.20" width="10.10" height="6.40" fill="#000" />
<rect x="340.30" y="80.60" width="10.10" height="0.90" fill="#888" />
<rect x="340.30" y="81.50" width="10.10" height="5.80" fill="#000" />
<rect x="340.30" y="87.30" width="10.10" height="8.70" fill="#fff" />
<rect x="340.30" y="96.00" width="10.10" height="8.60" fill="#000" />
<rect x="340.30" y="104.60" width="10.10" height="5.80" fill="#fff" />
<rect x="340.30" y="110.40" width="10.10" height="2.30" fill="#000" />
<rect x="340.30" y="112.70" width="10.10" height="3.50" fill="#fff" />
</g>
<rect x="340.3" y="32.5" width="10.1" height="25.5" rx="2" fill="none" stroke="#333" stroke-width="0.7"/>
<rect x="340.3" y="62" width="10.1" height="54.2" rx="2" fill="none" stroke="#333" stroke-width="0.7"/>
<rect x="340.30" y="58.00" width="10.10" height="4.00" fill="url(#hatch)" />
<text x="328.4" y="36.70" font-family="Liberation Sans" font-size="4.9" font-weight="bold" fill="#333">23</text>
<text x="328.4" y="41.90" font-family="Liberation Sans" font-size="4.9" font-weight="bold" fill="#333">22</text>
<text x="328.4" y="48.20" font-family="Liberation Sans" font-size="4.9" font-weight="bold" fill="#333">21</text>
<text x="328.4" y="53.40" font-family="Liberation Sans" font-size="4.9" font-weight="bold" fill="#333">12</text>
<text x="327.6" y="57.30" font-family="Liberation Sans" font-size="4.9" font-weight="bold" fill="#333">11.2</text>
<text x="327.6" y="64.40" font-family="Liberation Sans" font-size="4.9" font-weight="bold" fill="#333">11.2</text>
<text x="328.4" y="67.90" font-family="Liberation Sans" font-size="4.9" font-weight="bold" fill="#333">12</text>
<text x="328.4" y="73.20" font-family="Liberation Sans" font-size="4.9" font-weight="bold" fill="#333">13</text>
<text x="327.6" y="79.00" font-family="Liberation Sans" font-size="4.9" font-weight="bold" fill="#333">21.2</text>
<text x="327.6" y="87.10" font-family="Liberation Sans" font-size="4.9" font-weight="bold" fill="#333">21.3</text>
<text x="328.4" y="94.40" font-family="Liberation Sans" font-size="4.9" font-weight="bold" fill="#333">22</text>
<text x="328.4" y="101.50" font-family="Liberation Sans" font-size="4.9" font-weight="bold" fill="#333">23</text>
<text x="327.6" y="109.20" font-family="Liberation Sans" font-size="4.9" font-weight="bold" fill="#333">24.1</text>
<text x="327.6" y="116.30" font-family="Liberation Sans" font-size="4.9" font-weight="bold" fill="#333">24.3</text>
<text x="345.60" y="124.20" font-family="Liberation Sans" font-size="8.6" font-weight="bold" fill="#222" text-anchor="middle" >8</text>
<rect x="355.3" y="29.2" width="42.9" height="91.5" fill="#fff" stroke="#555" stroke-width="1.4"/>
<rect x="401.6" y="29.2" width="46.8" height="91.5" fill="#fff" stroke="#555" stroke-width="1.4"/>
<rect x="451.5" y="29.2" width="48.7" height="91.5" fill="#fff" stroke="#555" stroke-width="1.4"/>
<polyline points="374.10,29.80 377.09,31.31 376.35,32.38 377.35,33.59 375.58,35.06 378.83,35.95 378.55,37.15 377.28,38.03 376.42,39.44 379.11,41.03 375.60,41.93 379.05,43.70 380.50,43.70 379.05,44.00 375.00,44.37 373.06,45.56 373.67,46.60 371.85,47.85 370.96,48.90 367.40,50.00 375.69,51.01 376.11,52.30 377.63,53.31 374.34,54.83 376.88,55.96 377.92,57.37 377.64,58.56 375.71,59.94 378.03,61.25 376.52,62.76 374.64,64.08 377.69,65.13 375.19,66.32 377.31,67.61 376.00,68.99 376.53,70.19 376.58,71.65 376.46,72.82 374.67,73.72 378.43,75.12 376.07,76.44 376.51,77.44 377.58,79.05 377.94,80.33 376.56,81.38 376.81,82.97 375.58,84.19 378.73,85.48 378.77,86.36 380.42,87.85 381.09,89.28 380.94,90.54 379.63,91.74 382.53,93.26 382.83,94.29 382.65,95.53 383.42,96.66 383.76,98.01 381.47,99.22 382.11,100.27 384.89,101.58 384.64,103.06 381.23,104.55 381.61,106.05 377.58,106.99 379.21,107.88 376.44,108.94 377.38,110.28 376.64,111.21 376.67,112.48 378.85,113.56" fill="none" stroke="#1a1a5a" stroke-width="0.95" stroke-linejoin="round"/>
<g fill="#14144a"><circle cx="374.10" cy="29.80" r="0.75"/><circle cx="377.09" cy="31.31" r="0.75"/><circle cx="376.35" cy="32.38" r="0.75"/><circle cx="377.35" cy="33.59" r="0.75"/><circle cx="375.58" cy="35.06" r="0.75"/><circle cx="378.83" cy="35.95" r="0.75"/><circle cx="378.55" cy="37.15" r="0.75"/><circle cx="377.28" cy="38.03" r="0.75"/><circle cx="376.42" cy="39.44" r="0.75"/><circle cx="379.11" cy="41.03" r="0.75"/><circle cx="375.60" cy="41.93" r="0.75"/><circle cx="379.05" cy="43.70" r="0.75"/><circle cx="380.50" cy="43.70" r="0.75"/><circle cx="379.05" cy="44.00" r="0.75"/><circle cx="375.00" cy="44.37" r="0.75"/><circle cx="373.06" cy="45.56" r="0.75"/><circle cx="373.67" cy="46.60" r="0.75"/><circle cx="371.85" cy="47.85" r="0.75"/><circle cx="370.96" cy="48.90" r="0.75"/><circle cx="367.40" cy="50.00" r="0.75"/><circle cx="375.69" cy="51.01" r="0.75"/><circle cx="376.11" cy="52.30" r="0.75"/><circle cx="377.63" cy="53.31" r="0.75"/><circle cx="374.34" cy="54.83" r="0.75"/><circle cx="376.88" cy="55.96" r="0.75"/><circle cx="377.92" cy="57.37" r="0.75"/><circle cx="377.64" cy="58.56" r="0.75"/><circle cx="375.71" cy="59.94" r="0.75"/><circle cx="378.03" cy="61.25" r="0.75"/><circle cx="376.52" cy="62.76" r="0.75"/><circle cx="374.64" cy="64.08" r="0.75"/><circle cx="377.69" cy="65.13" r="0.75"/><circle cx="375.19" cy="66.32" r="0.75"/><circle cx="377.31" cy="67.61" r="0.75"/><circle cx="376.00" cy="68.99" r="0.75"/><circle cx="376.53" cy="70.19" r="0.75"/><circle cx="376.58" cy="71.65" r="0.75"/><circle cx="376.46" cy="72.82" r="0.75"/><circle cx="374.67" cy="73.72" r="0.75"/><circle cx="378.43" cy="75.12" r="0.75"/><circle cx="376.07" cy="76.44" r="0.75"/><circle cx="376.51" cy="77.44" r="0.75"/><circle cx="377.58" cy="79.05" r="0.75"/><circle cx="377.94" cy="80.33" r="0.75"/><circle cx="376.56" cy="81.38" r="0.75"/><circle cx="376.81" cy="82.97" r="0.75"/><circle cx="375.58" cy="84.19" r="0.75"/><circle cx="378.73" cy="85.48" r="0.75"/><circle cx="378.77" cy="86.36" r="0.75"/><circle cx="380.42" cy="87.85" r="0.75"/><circle cx="381.09" cy="89.28" r="0.75"/><circle cx="380.94" cy="90.54" r="0.75"/><circle cx="379.63" cy="91.74" r="0.75"/><circle cx="382.53" cy="93.26" r="0.75"/><circle cx="382.83" cy="94.29" r="0.75"/><circle cx="382.65" cy="95.53" r="0.75"/><circle cx="383.42" cy="96.66" r="0.75"/><circle cx="383.76" cy="98.01" r="0.75"/><circle cx="381.47" cy="99.22" r="0.75"/><circle cx="382.11" cy="100.27" r="0.75"/><circle cx="384.89" cy="101.58" r="0.75"/><circle cx="384.64" cy="103.06" r="0.75"/><circle cx="381.23" cy="104.55" r="0.75"/><circle cx="381.61" cy="106.05" r="0.75"/><circle cx="377.58" cy="106.99" r="0.75"/><circle cx="379.21" cy="107.88" r="0.75"/><circle cx="376.44" cy="108.94" r="0.75"/><circle cx="377.38" cy="110.28" r="0.75"/><circle cx="376.64" cy="111.21" r="0.75"/><circle cx="376.67" cy="112.48" r="0.75"/><circle cx="378.85" cy="113.56" r="0.75"/></g>
<polyline points="424.82,30.40 421.59,31.99 424.92,32.92 424.58,34.35 424.57,35.46 424.78,36.70 428.50,36.70 424.78,37.00 424.22,37.78 425.39,38.95 426.30,40.57 424.28,41.86 422.64,42.93 424.36,43.83 422.92,44.94 421.70,46.49 420.33,47.78 414.20,48.30 424.15,49.65 425.55,51.28 426.86,53.00 428.50,53.00 426.86,53.30 425.91,53.76 426.08,55.31 423.62,56.78 427.27,58.39 426.02,59.39 424.27,60.80 424.44,62.07 424.51,63.64 423.62,65.14 426.90,66.68 424.91,67.90 425.84,69.46 422.83,70.70 425.70,71.82 426.95,72.82 426.97,73.90 427.24,75.00 424.53,76.41 425.41,77.67 423.37,78.99 424.57,80.02 425.24,81.59 426.42,82.53 426.95,83.95 425.97,84.96 425.42,85.88 422.86,86.96 422.14,88.49 426.62,89.76 422.76,90.82 424.04,92.36 421.69,93.77 422.53,94.91 422.00,96.29 421.65,97.89 421.63,99.31 426.38,100.37 422.60,101.37 423.81,102.76 427.44,103.67 421.72,104.66 425.19,105.79 422.18,107.22 421.68,108.30 429.00,108.30 421.68,108.60 426.10,109.56 426.91,110.99 426.67,112.43" fill="none" stroke="#1a1a5a" stroke-width="0.95" stroke-linejoin="round"/>
<g fill="#14144a"><circle cx="424.82" cy="30.40" r="0.75"/><circle cx="421.59" cy="31.99" r="0.75"/><circle cx="424.92" cy="32.92" r="0.75"/><circle cx="424.58" cy="34.35" r="0.75"/><circle cx="424.57" cy="35.46" r="0.75"/><circle cx="424.78" cy="36.70" r="0.75"/><circle cx="428.50" cy="36.70" r="0.75"/><circle cx="424.78" cy="37.00" r="0.75"/><circle cx="424.22" cy="37.78" r="0.75"/><circle cx="425.39" cy="38.95" r="0.75"/><circle cx="426.30" cy="40.57" r="0.75"/><circle cx="424.28" cy="41.86" r="0.75"/><circle cx="422.64" cy="42.93" r="0.75"/><circle cx="424.36" cy="43.83" r="0.75"/><circle cx="422.92" cy="44.94" r="0.75"/><circle cx="421.70" cy="46.49" r="0.75"/><circle cx="420.33" cy="47.78" r="0.75"/><circle cx="414.20" cy="48.30" r="0.75"/><circle cx="424.15" cy="49.65" r="0.75"/><circle cx="425.55" cy="51.28" r="0.75"/><circle cx="426.86" cy="53.00" r="0.75"/><circle cx="428.50" cy="53.00" r="0.75"/><circle cx="426.86" cy="53.30" r="0.75"/><circle cx="425.91" cy="53.76" r="0.75"/><circle cx="426.08" cy="55.31" r="0.75"/><circle cx="423.62" cy="56.78" r="0.75"/><circle cx="427.27" cy="58.39" r="0.75"/><circle cx="426.02" cy="59.39" r="0.75"/><circle cx="424.27" cy="60.80" r="0.75"/><circle cx="424.44" cy="62.07" r="0.75"/><circle cx="424.51" cy="63.64" r="0.75"/><circle cx="423.62" cy="65.14" r="0.75"/><circle cx="426.90" cy="66.68" r="0.75"/><circle cx="424.91" cy="67.90" r="0.75"/><circle cx="425.84" cy="69.46" r="0.75"/><circle cx="422.83" cy="70.70" r="0.75"/><circle cx="425.70" cy="71.82" r="0.75"/><circle cx="426.95" cy="72.82" r="0.75"/><circle cx="426.97" cy="73.90" r="0.75"/><circle cx="427.24" cy="75.00" r="0.75"/><circle cx="424.53" cy="76.41" r="0.75"/><circle cx="425.41" cy="77.67" r="0.75"/><circle cx="423.37" cy="78.99" r="0.75"/><circle cx="424.57" cy="80.02" r="0.75"/><circle cx="425.24" cy="81.59" r="0.75"/><circle cx="426.42" cy="82.53" r="0.75"/><circle cx="426.95" cy="83.95" r="0.75"/><circle cx="425.97" cy="84.96" r="0.75"/><circle cx="425.42" cy="85.88" r="0.75"/><circle cx="422.86" cy="86.96" r="0.75"/><circle cx="422.14" cy="88.49" r="0.75"/><circle cx="426.62" cy="89.76" r="0.75"/><circle cx="422.76" cy="90.82" r="0.75"/><circle cx="424.04" cy="92.36" r="0.75"/><circle cx="421.69" cy="93.77" r="0.75"/><circle cx="422.53" cy="94.91" r="0.75"/><circle cx="422.00" cy="96.29" r="0.75"/><circle cx="421.65" cy="97.89" r="0.75"/><circle cx="421.63" cy="99.31" r="0.75"/><circle cx="426.38" cy="100.37" r="0.75"/><circle cx="422.60" cy="101.37" r="0.75"/><circle cx="423.81" cy="102.76" r="0.75"/><circle cx="427.44" cy="103.67" r="0.75"/><circle cx="421.72" cy="104.66" r="0.75"/><circle cx="425.19" cy="105.79" r="0.75"/><circle cx="422.18" cy="107.22" r="0.75"/><circle cx="421.68" cy="108.30" r="0.75"/><circle cx="429.00" cy="108.30" r="0.75"/><circle cx="421.68" cy="108.60" r="0.75"/><circle cx="426.10" cy="109.56" r="0.75"/><circle cx="426.91" cy="110.99" r="0.75"/><circle cx="426.67" cy="112.43" r="0.75"/></g>
<polyline points="476.51,29.80 477.51,31.13 479.46,32.52 474.80,33.48 476.67,35.04 482.27,36.13 481.06,37.41 479.56,38.69 479.52,39.72 478.68,41.31 479.80,43.00 465.00,43.00 479.80,43.30 480.46,43.75 476.99,45.12 481.28,46.06 480.16,47.34 480.13,48.93 477.70,50.56 478.08,52.10 481.38,53.74 475.73,54.72 481.72,55.80 478.08,57.05 477.24,58.20 476.26,59.41 476.77,60.30 472.00,60.30 476.77,60.60 483.00,60.60 476.77,60.90 477.08,62.39 477.64,64.02 477.05,65.71 477.65,66.50 479.50,66.50 477.65,66.80 477.80,68.41 477.18,69.76 477.56,70.83 475.81,72.19 477.63,73.50 480.00,73.50 477.63,73.80 475.18,74.83 476.21,76.37 475.84,77.40 477.69,78.91 476.87,79.85 477.20,80.79 477.72,81.96 476.52,83.64 475.89,85.33 476.82,86.30 471.00,86.30 476.82,86.50 481.50,86.50 476.82,86.80 475.53,87.23 476.85,88.46 475.04,89.49 475.90,91.08 477.77,92.74 476.37,93.94 476.96,95.26 476.69,96.63 477.91,98.02 476.28,99.33 475.66,100.80 478.03,101.95 476.65,103.26 476.23,104.18 474.96,105.54 476.92,106.93 476.91,107.89 477.07,109.17 477.16,110.35 474.97,111.84 477.06,112.79 475.70,114.45" fill="none" stroke="#1a1a5a" stroke-width="0.95" stroke-linejoin="round"/>
<g fill="#14144a"><circle cx="476.51" cy="29.80" r="0.75"/><circle cx="477.51" cy="31.13" r="0.75"/><circle cx="479.46" cy="32.52" r="0.75"/><circle cx="474.80" cy="33.48" r="0.75"/><circle cx="476.67" cy="35.04" r="0.75"/><circle cx="482.27" cy="36.13" r="0.75"/><circle cx="481.06" cy="37.41" r="0.75"/><circle cx="479.56" cy="38.69" r="0.75"/><circle cx="479.52" cy="39.72" r="0.75"/><circle cx="478.68" cy="41.31" r="0.75"/><circle cx="479.80" cy="43.00" r="0.75"/><circle cx="465.00" cy="43.00" r="0.75"/><circle cx="479.80" cy="43.30" r="0.75"/><circle cx="480.46" cy="43.75" r="0.75"/><circle cx="476.99" cy="45.12" r="0.75"/><circle cx="481.28" cy="46.06" r="0.75"/><circle cx="480.16" cy="47.34" r="0.75"/><circle cx="480.13" cy="48.93" r="0.75"/><circle cx="477.70" cy="50.56" r="0.75"/><circle cx="478.08" cy="52.10" r="0.75"/><circle cx="481.38" cy="53.74" r="0.75"/><circle cx="475.73" cy="54.72" r="0.75"/><circle cx="481.72" cy="55.80" r="0.75"/><circle cx="478.08" cy="57.05" r="0.75"/><circle cx="477.24" cy="58.20" r="0.75"/><circle cx="476.26" cy="59.41" r="0.75"/><circle cx="476.77" cy="60.30" r="0.75"/><circle cx="472.00" cy="60.30" r="0.75"/><circle cx="476.77" cy="60.60" r="0.75"/><circle cx="483.00" cy="60.60" r="0.75"/><circle cx="476.77" cy="60.90" r="0.75"/><circle cx="477.08" cy="62.39" r="0.75"/><circle cx="477.64" cy="64.02" r="0.75"/><circle cx="477.05" cy="65.71" r="0.75"/><circle cx="477.65" cy="66.50" r="0.75"/><circle cx="479.50" cy="66.50" r="0.75"/><circle cx="477.65" cy="66.80" r="0.75"/><circle cx="477.80" cy="68.41" r="0.75"/><circle cx="477.18" cy="69.76" r="0.75"/><circle cx="477.56" cy="70.83" r="0.75"/><circle cx="475.81" cy="72.19" r="0.75"/><circle cx="477.63" cy="73.50" r="0.75"/><circle cx="480.00" cy="73.50" r="0.75"/><circle cx="477.63" cy="73.80" r="0.75"/><circle cx="475.18" cy="74.83" r="0.75"/><circle cx="476.21" cy="76.37" r="0.75"/><circle cx="475.84" cy="77.40" r="0.75"/><circle cx="477.69" cy="78.91" r="0.75"/><circle cx="476.87" cy="79.85" r="0.75"/><circle cx="477.20" cy="80.79" r="0.75"/><circle cx="477.72" cy="81.96" r="0.75"/><circle cx="476.52" cy="83.64" r="0.75"/><circle cx="475.89" cy="85.33" r="0.75"/><circle cx="476.82" cy="86.30" r="0.75"/><circle cx="471.00" cy="86.30" r="0.75"/><circle cx="476.82" cy="86.50" r="0.75"/><circle cx="481.50" cy="86.50" r="0.75"/><circle cx="476.82" cy="86.80" r="0.75"/><circle cx="475.53" cy="87.23" r="0.75"/><circle cx="476.85" cy="88.46" r="0.75"/><circle cx="475.04" cy="89.49" r="0.75"/><circle cx="475.90" cy="91.08" r="0.75"/><circle cx="477.77" cy="92.74" r="0.75"/><circle cx="476.37" cy="93.94" r="0.75"/><circle cx="476.96" cy="95.26" r="0.75"/><circle cx="476.69" cy="96.63" r="0.75"/><circle cx="477.91" cy="98.02" r="0.75"/><circle cx="476.28" cy="99.33" r="0.75"/><circle cx="475.66" cy="100.80" r="0.75"/><circle cx="478.03" cy="101.95" r="0.75"/><circle cx="476.65" cy="103.26" r="0.75"/><circle cx="476.23" cy="104.18" r="0.75"/><circle cx="474.96" cy="105.54" r="0.75"/><circle cx="476.92" cy="106.93" r="0.75"/><circle cx="476.91" cy="107.89" r="0.75"/><circle cx="477.07" cy="109.17" r="0.75"/><circle cx="477.16" cy="110.35" r="0.75"/><circle cx="474.97" cy="111.84" r="0.75"/><circle cx="477.06" cy="112.79" r="0.75"/><circle cx="475.70" cy="114.45" r="0.75"/></g>
<path d="M384.7,47.2 l5.2,-2.6 l0,1.7 l5.6,0 l0,1.8 l-5.6,0 l0,1.7 Z" fill="#e8321c"/>
<path d="M431.5,45 l5.2,-2.6 l0,1.7 l5.6,0 l0,1.8 l-5.6,0 l0,1.7 Z" fill="#e8321c"/>
<path d="M482.3,43 l5.2,-2.6 l0,1.7 l5.6,0 l0,1.8 l-5.6,0 l0,1.7 Z" fill="#e8321c"/>
<text x="377.80" y="134.00" font-family="Liberation Sans" font-size="8.5" font-weight="bold" fill="#111" text-anchor="middle" >PR1</text>
<text x="425.00" y="134.00" font-family="Liberation Sans" font-size="8.5" font-weight="bold" fill="#111" text-anchor="middle" >Z138</text>
<text x="473.60" y="134.00" font-family="Liberation Serif" font-size="8.3" font-weight="bold" fill="#111" text-anchor="middle" >P005</text>
<text x="324.20" y="155.20" font-family="Liberation Sans" font-size="17.4" font-weight="bold" fill="#000" text-anchor="start" >C</text>
<rect x="346.4" y="142.6" width="51.9" height="66.4" fill="#fff" stroke="#777" stroke-width="0.9"/>
<defs>
<linearGradient id="chrL" x1="0" y1="0" x2="0" y2="1">
<stop offset="0" stop-color="#6a6260"/><stop offset="0.15" stop-color="#a09898"/><stop offset="0.3" stop-color="#c8c0c0"/>
<stop offset="0.45" stop-color="#908888"/><stop offset="0.55" stop-color="#b8b0b0"/><stop offset="0.7" stop-color="#585050"/>
<stop offset="0.85" stop-color="#a8a0a0"/><stop offset="1" stop-color="#e0dcdc"/></linearGradient>
<linearGradient id="chrR" x1="0" y1="0" x2="0" y2="1">
<stop offset="0" stop-color="#787070"/><stop offset="0.12" stop-color="#585050"/><stop offset="0.22" stop-color="#b0a8a8"/>
<stop offset="0.32" stop-color="#403838"/><stop offset="0.45" stop-color="#8a8282"/><stop offset="0.57" stop-color="#302828"/>
<stop offset="0.68" stop-color="#858080"/><stop offset="0.77" stop-color="#302828"/><stop offset="0.88" stop-color="#a8a0a0"/><stop offset="1" stop-color="#dcd8d8"/></linearGradient>
<radialGradient id="yel" cx="0.5" cy="0.45" r="0.6"><stop offset="0" stop-color="#f4c030"/><stop offset="0.7" stop-color="#d8a020"/><stop offset="1" stop-color="#a07818" stop-opacity="0.6"/></radialGradient>
<linearGradient id="cyn" x1="0" y1="0" x2="0" y2="1"><stop offset="0" stop-color="#70e0e0"/><stop offset="0.5" stop-color="#40c8c0"/><stop offset="0.75" stop-color="#30a840"/><stop offset="1" stop-color="#2a40a0"/></linearGradient>
<radialGradient id="nuc" cx="0.5" cy="0.5" r="0.5"><stop offset="0" stop-color="#0e1270"/><stop offset="0.85" stop-color="#0e126c"/><stop offset="1" stop-color="#0c0e52"/></radialGradient>
<filter id="bl1" x="-20%" y="-20%" width="140%" height="140%"><feGaussianBlur stdDeviation="0.6"/></filter>
<filter id="bl2" x="-30%" y="-30%" width="160%" height="160%"><feGaussianBlur stdDeviation="1.0"/></filter>
</defs>
<path d="M352.6,154.8 C356,152.8 363,153.2 366.5,156 C370,160 370.8,170 370.8,180 L370.6,193.2 C368,194.2 365,194.2 362.6,193.2 L363,176 C363,168 362,164 359,162.2 C356,161.2 353.5,162 352.8,161 Z" fill="url(#chrL)" filter="url(#bl1)"/>
<line x1="352.50" y1="160.80" x2="359.50" y2="161.20" stroke="#666" stroke-width="0.5" />
<path d="M381,148 C384,146 389,146.5 390.5,149.5 C391.5,153 389.5,156.5 387.5,158 C388,163 388,170 387.5,180 L387.2,196 C383.5,197.3 379,197 375.8,195.8 L376,181 C376,172 378,165 380.5,158.5 C379.5,155 379,150 381,148 Z" fill="url(#chrR)" filter="url(#bl1)"/>
<text x="373.60" y="204.80" font-family="Liberation Serif" font-size="7" font-weight="bold" fill="#111" text-anchor="middle" >8</text>
<rect x="400.70" y="143.10" width="48.90" height="65.20" fill="#050505" />
<path d="M407,166 C405.5,176 405.8,186 408,193.5 C411,196 417,195.5 419.8,193 C421.2,185 421.3,176 420,165 C416,163 410,163.5 407,166 Z" fill="#1c2280" filter="url(#bl1)"/>
<ellipse cx="413" cy="158.3" rx="7.2" ry="10.2" transform="rotate(-14 413 158.3)" fill="url(#yel)" filter="url(#bl1)"/>
<path d="M431.5,150 C432.5,146 441.5,145.5 442.8,150 L443.3,190 C441,195 433,195.5 430.8,190 Z" fill="#2030a0" filter="url(#bl1)"/>
<path d="M431.5,150 C432.5,146 441.5,145.5 442.8,150 L443,157.5 L431.2,157.5 Z" fill="url(#cyn)" filter="url(#bl1)"/>
<ellipse cx="436" cy="191.2" rx="4.6" ry="3.4" fill="#c8a0d0" opacity="0.75" filter="url(#bl1)"/>
<text x="424.20" y="207.00" font-family="Liberation Sans" font-size="8" font-weight="normal" fill="#c8c8c8" text-anchor="middle" >8</text>
<rect x="452.10" y="143.10" width="51.70" height="64.60" fill="#06040e" />
<g filter="url(#bl2)" opacity="0.75"><path d="M453,158 C460,152 468,151 474,153 L476,160 C470,158 462,160 455,165 Z" fill="#16145e"/><path d="M470,160 C478,166 482,176 481,188 L476,190 C476,178 473,170 466,164 Z" fill="#1e1c80"/><path d="M457,183 C462,180 470,182 477,188 L479,196 C471,194 462,192 456,190 Z" fill="#1c1a78"/><path d="M455,166 C460,170 462,176 460,182 L456,182 Z" fill="#141060"/><path d="M486,146 C492,146 498,150 503,152 L503,158 C497,155 491,152 486,150 Z" fill="#141060"/></g>
<ellipse cx="471.5" cy="157.6" rx="3.6" ry="2.2" fill="#3cc060" filter="url(#bl1)"/>
<circle cx="476.8" cy="188.6" r="3" fill="#c02030" filter="url(#bl2)"/><circle cx="476.6" cy="188.3" r="1.3" fill="#fff0f0" filter="url(#bl1)"/><circle cx="482.5" cy="189.8" r="1.1" fill="#b02040"/>
<path d="M477.4,157 L483.6,154.2 L483.6,159.8 Z" fill="#fff"/>
<path d="M480.8,192.6 L478.3,198.2 L483.3,198.2 Z" fill="#fff"/>
<text x="485.20" y="160.60" font-family="Liberation Sans" font-size="10" font-weight="bold" fill="#ecd850" text-anchor="start" >IgH</text>
<text x="461.60" y="207.30" font-family="Liberation Sans" font-size="8.8" font-weight="bold" fill="#ecd850" text-anchor="start" >BCL6-IgH</text>
<text x="324.10" y="227.00" font-family="Liberation Sans" font-size="17.6" font-weight="bold" fill="#000" text-anchor="start" >D</text>
<rect x="347.00" y="214.40" width="75.80" height="69.90" fill="#050505" />
<defs><clipPath id="cpD1"><rect x="347" y="214.4" width="75.8" height="69.9"/></clipPath><clipPath id="cpD2"><rect x="428.3" y="214.6" width="76" height="69.8"/></clipPath></defs>
<g clip-path="url(#cpD1)">
<ellipse cx="380.8" cy="230.5" rx="13.6" ry="11.6" transform="rotate(-10 380.8 230.5)" fill="url(#nuc)" filter="url(#bl1)"/>
<ellipse cx="407.7" cy="237.4" rx="12.8" ry="12.3" fill="url(#nuc)" filter="url(#bl1)"/>
<ellipse cx="360" cy="259" rx="8.9" ry="10" fill="url(#nuc)" filter="url(#bl1)"/>
<ellipse cx="393.5" cy="271.3" rx="10.2" ry="10.2" fill="url(#nuc)" filter="url(#bl1)"/>
<ellipse cx="428" cy="220" rx="10" ry="10" fill="url(#nuc)" filter="url(#bl1)"/>
<ellipse cx="429" cy="253.5" rx="11" ry="9" fill="url(#nuc)" filter="url(#bl1)"/>
</g>
<circle cx="377.3" cy="240.5" r="0.8" fill="#b0b0e0" filter="url(#bl1)"/>
<circle cx="413.5" cy="231.6" r="1.1" fill="#b03080" filter="url(#bl1)"/>
<circle cx="418.5" cy="236.6" r="0.8" fill="#a0a0d8" filter="url(#bl1)"/>
<circle cx="363.5" cy="251.2" r="0.8" fill="#a03070" filter="url(#bl1)"/>
<circle cx="356.5" cy="261.5" r="0.9" fill="#c0a0e0" filter="url(#bl1)"/>
<circle cx="392.7" cy="262" r="0.8" fill="#903070" filter="url(#bl1)"/>
<circle cx="396" cy="274.5" r="1.0" fill="#c04080" filter="url(#bl1)"/>
<circle cx="397" cy="275.5" r="0.6" fill="#d0d0f0" filter="url(#bl1)"/>
<rect x="428.30" y="214.60" width="76.00" height="69.80" fill="#050505" />
<g clip-path="url(#cpD2)">
<ellipse cx="455" cy="248" rx="19" ry="19" fill="#0c0e48" filter="url(#bl2)"/>
<ellipse cx="458" cy="230" rx="9" ry="7" fill="#0c0e48" filter="url(#bl2)"/>
<g filter="url(#bl1)"><ellipse cx="453.6" cy="249.1" rx="2.8" ry="1.3" transform="rotate(91 453.6 249.1)" fill="#161878"/><ellipse cx="440.2" cy="246.6" rx="2.4" ry="1.5" transform="rotate(17 440.2 246.6)" fill="#121466"/><ellipse cx="438.1" cy="248.0" rx="2.7" ry="1.4" transform="rotate(107 438.1 248.0)" fill="#181a7c"/><ellipse cx="461.8" cy="228.2" rx="1.5" ry="1.3" transform="rotate(11 461.8 228.2)" fill="#161878"/><ellipse cx="475.0" cy="251.2" rx="2.6" ry="1.2" transform="rotate(106 475.0 251.2)" fill="#161878"/><ellipse cx="457.0" cy="253.3" rx="2.2" ry="1.4" transform="rotate(82 457.0 253.3)" fill="#121466"/><ellipse cx="451.3" cy="248.7" rx="2.8" ry="1.0" transform="rotate(46 451.3 248.7)" fill="#161878"/><ellipse cx="459.2" cy="225.6" rx="1.7" ry="1.1" transform="rotate(12 459.2 225.6)" fill="#14166e"/><ellipse cx="441.5" cy="267.3" rx="2.2" ry="1.7" transform="rotate(72 441.5 267.3)" fill="#14166e"/><ellipse cx="459.3" cy="230.3" rx="2.4" ry="1.2" transform="rotate(56 459.3 230.3)" fill="#14166e"/><ellipse cx="436.9" cy="232.8" rx="1.6" ry="0.9" transform="rotate(143 436.9 232.8)" fill="#161878"/><ellipse cx="465.1" cy="229.8" rx="2.2" ry="1.7" transform="rotate(139 465.1 229.8)" fill="#181a7c"/><ellipse cx="463.2" cy="226.1" rx="2.1" ry="1.1" transform="rotate(49 463.2 226.1)" fill="#121466"/><ellipse cx="461.1" cy="250.0" rx="1.6" ry="1.0" transform="rotate(79 461.1 250.0)" fill="#14166e"/><ellipse cx="469.6" cy="237.1" rx="1.9" ry="1.0" transform="rotate(16 469.6 237.1)" fill="#161878"/><ellipse cx="431.8" cy="239.2" rx="2.4" ry="1.0" transform="rotate(106 431.8 239.2)" fill="#161878"/><ellipse cx="471.9" cy="233.0" rx="1.8" ry="1.5" transform="rotate(169 471.9 233.0)" fill="#161878"/><ellipse cx="465.3" cy="240.2" rx="2.2" ry="1.0" transform="rotate(9 465.3 240.2)" fill="#14166e"/><ellipse cx="442.9" cy="256.6" rx="1.9" ry="1.6" transform="rotate(107 442.9 256.6)" fill="#121466"/><ellipse cx="457.0" cy="268.3" rx="2.9" ry="1.0" transform="rotate(86 457.0 268.3)" fill="#14166e"/><ellipse cx="445.0" cy="267.7" rx="1.8" ry="0.9" transform="rotate(48 445.0 267.7)" fill="#181a7c"/><ellipse cx="445.1" cy="247.6" rx="2.9" ry="1.0" transform="rotate(25 445.1 247.6)" fill="#181a7c"/><ellipse cx="465.6" cy="250.4" rx="1.7" ry="0.9" transform="rotate(3 465.6 250.4)" fill="#121466"/><ellipse cx="432.1" cy="253.1" rx="2.2" ry="1.5" transform="rotate(57 432.1 253.1)" fill="#14166e"/><ellipse cx="434.8" cy="248.4" rx="2.5" ry="1.6" transform="rotate(133 434.8 248.4)" fill="#161878"/><ellipse cx="448.6" cy="255.6" rx="2.8" ry="1.6" transform="rotate(75 448.6 255.6)" fill="#14166e"/><ellipse cx="474.2" cy="249.8" rx="2.4" ry="1.2" transform="rotate(105 474.2 249.8)" fill="#14166e"/><ellipse cx="435.0" cy="253.2" rx="2.9" ry="1.6" transform="rotate(131 435.0 253.2)" fill="#181a7c"/><ellipse cx="477.7" cy="256.1" rx="2.1" ry="1.3" transform="rotate(97 477.7 256.1)" fill="#14166e"/><ellipse cx="446.5" cy="224.6" rx="1.5" ry="1.7" transform="rotate(20 446.5 224.6)" fill="#181a7c"/><ellipse cx="446.1" cy="255.3" rx="1.8" ry="1.0" transform="rotate(163 446.1 255.3)" fill="#181a7c"/><ellipse cx="455.9" cy="232.6" rx="2.1" ry="1.1" transform="rotate(114 455.9 232.6)" fill="#161878"/><ellipse cx="475.0" cy="240.0" rx="2.3" ry="1.2" transform="rotate(25 475.0 240.0)" fill="#181a7c"/><ellipse cx="448.5" cy="266.6" rx="1.6" ry="1.0" transform="rotate(176 448.5 266.6)" fill="#161878"/><ellipse cx="436.6" cy="244.5" rx="2.8" ry="1.6" transform="rotate(69 436.6 244.5)" fill="#181a7c"/><ellipse cx="464.6" cy="257.2" rx="2.7" ry="1.4" transform="rotate(58 464.6 257.2)" fill="#14166e"/><ellipse cx="444.9" cy="251.6" rx="2.4" ry="1.1" transform="rotate(64 444.9 251.6)" fill="#14166e"/><ellipse cx="463.0" cy="241.1" rx="1.8" ry="1.5" transform="rotate(48 463.0 241.1)" fill="#161878"/><ellipse cx="457.8" cy="253.3" rx="2.0" ry="1.0" transform="rotate(36 457.8 253.3)" fill="#181a7c"/><ellipse cx="443.8" cy="257.1" rx="2.6" ry="1.3" transform="rotate(7 443.8 257.1)" fill="#161878"/><ellipse cx="444.6" cy="238.0" rx="2.5" ry="1.3" transform="rotate(111 444.6 238.0)" fill="#161878"/><ellipse cx="450.7" cy="261.2" rx="2.8" ry="1.0" transform="rotate(168 450.7 261.2)" fill="#181a7c"/><ellipse cx="437.5" cy="243.6" rx="2.4" ry="1.6" transform="rotate(68 437.5 243.6)" fill="#121466"/><ellipse cx="454.2" cy="253.9" rx="1.8" ry="1.5" transform="rotate(147 454.2 253.9)" fill="#14166e"/><ellipse cx="441.7" cy="266.8" rx="2.9" ry="1.7" transform="rotate(97 441.7 266.8)" fill="#121466"/><ellipse cx="444.1" cy="257.3" rx="1.5" ry="1.3" transform="rotate(7 444.1 257.3)" fill="#121466"/><ellipse cx="458.5" cy="259.9" rx="2.2" ry="0.9" transform="rotate(146 458.5 259.9)" fill="#14166e"/><ellipse cx="457.7" cy="255.7" rx="2.8" ry="1.3" transform="rotate(180 457.7 255.7)" fill="#181a7c"/><ellipse cx="478.3" cy="245.6" rx="2.8" ry="1.0" transform="rotate(40 478.3 245.6)" fill="#121466"/><ellipse cx="472.6" cy="249.2" rx="1.7" ry="1.3" transform="rotate(163 472.6 249.2)" fill="#121466"/><ellipse cx="446.6" cy="239.8" rx="2.7" ry="1.6" transform="rotate(37 446.6 239.8)" fill="#161878"/><ellipse cx="479.4" cy="247.3" rx="2.3" ry="1.1" transform="rotate(96 479.4 247.3)" fill="#14166e"/><ellipse cx="479.5" cy="246.8" rx="2.1" ry="1.5" transform="rotate(101 479.5 246.8)" fill="#181a7c"/><ellipse cx="477.5" cy="243.9" rx="2.8" ry="1.5" transform="rotate(73 477.5 243.9)" fill="#161878"/><ellipse cx="454.7" cy="226.6" rx="2.1" ry="1.6" transform="rotate(162 454.7 226.6)" fill="#181a7c"/><ellipse cx="457.2" cy="225.6" rx="2.1" ry="0.9" transform="rotate(47 457.2 225.6)" fill="#14166e"/><ellipse cx="467.2" cy="232.7" rx="2.2" ry="1.3" transform="rotate(105 467.2 232.7)" fill="#121466"/><ellipse cx="466.9" cy="256.5" rx="2.7" ry="0.9" transform="rotate(114 466.9 256.5)" fill="#161878"/><ellipse cx="457.9" cy="264.9" rx="2.2" ry="1.1" transform="rotate(39 457.9 264.9)" fill="#161878"/><ellipse cx="442.6" cy="258.5" rx="2.6" ry="1.6" transform="rotate(57 442.6 258.5)" fill="#121466"/><ellipse cx="469.9" cy="230.1" rx="1.6" ry="1.6" transform="rotate(24 469.9 230.1)" fill="#14166e"/><ellipse cx="472.6" cy="241.9" rx="2.6" ry="1.0" transform="rotate(73 472.6 241.9)" fill="#14166e"/><ellipse cx="435.8" cy="249.6" rx="2.0" ry="1.6" transform="rotate(65 435.8 249.6)" fill="#121466"/><ellipse cx="456.1" cy="255.7" rx="1.8" ry="1.0" transform="rotate(19 456.1 255.7)" fill="#14166e"/><ellipse cx="469.1" cy="251.9" rx="2.8" ry="1.3" transform="rotate(34 469.1 251.9)" fill="#14166e"/><ellipse cx="441.2" cy="263.7" rx="2.9" ry="1.6" transform="rotate(17 441.2 263.7)" fill="#14166e"/><ellipse cx="437.7" cy="255.4" rx="1.6" ry="1.0" transform="rotate(70 437.7 255.4)" fill="#181a7c"/><ellipse cx="456.8" cy="242.4" rx="2.3" ry="0.9" transform="rotate(126 456.8 242.4)" fill="#161878"/><ellipse cx="440.1" cy="243.6" rx="2.5" ry="1.2" transform="rotate(35 440.1 243.6)" fill="#161878"/><ellipse cx="435.7" cy="261.2" rx="2.0" ry="1.0" transform="rotate(152 435.7 261.2)" fill="#181a7c"/><ellipse cx="459.5" cy="229.9" rx="2.3" ry="1.2" transform="rotate(137 459.5 229.9)" fill="#121466"/><ellipse cx="476.6" cy="258.7" rx="2.6" ry="1.6" transform="rotate(73 476.6 258.7)" fill="#121466"/><ellipse cx="475.0" cy="256.1" rx="2.6" ry="1.5" transform="rotate(73 475.0 256.1)" fill="#161878"/><ellipse cx="434.5" cy="237.8" rx="2.2" ry="0.9" transform="rotate(64 434.5 237.8)" fill="#14166e"/><ellipse cx="464.3" cy="237.6" rx="2.4" ry="1.4" transform="rotate(96 464.3 237.6)" fill="#181a7c"/><ellipse cx="456.7" cy="245.9" rx="1.8" ry="1.0" transform="rotate(71 456.7 245.9)" fill="#14166e"/><ellipse cx="442.9" cy="243.1" rx="2.2" ry="1.5" transform="rotate(117 442.9 243.1)" fill="#14166e"/><ellipse cx="435.9" cy="233.0" rx="2.8" ry="1.3" transform="rotate(91 435.9 233.0)" fill="#14166e"/><ellipse cx="462.9" cy="262.1" rx="1.6" ry="1.4" transform="rotate(137 462.9 262.1)" fill="#14166e"/><ellipse cx="450.3" cy="268.8" rx="2.0" ry="1.7" transform="rotate(154 450.3 268.8)" fill="#14166e"/><ellipse cx="452.5" cy="245.7" rx="1.9" ry="1.2" transform="rotate(56 452.5 245.7)" fill="#121466"/><ellipse cx="455.2" cy="234.0" rx="2.8" ry="1.4" transform="rotate(135 455.2 234.0)" fill="#14166e"/><ellipse cx="468.7" cy="240.3" rx="2.8" ry="1.5" transform="rotate(9 468.7 240.3)" fill="#121466"/><ellipse cx="452.5" cy="244.8" rx="2.9" ry="1.1" transform="rotate(94 452.5 244.8)" fill="#181a7c"/><ellipse cx="443.3" cy="256.7" rx="1.6" ry="1.2" transform="rotate(21 443.3 256.7)" fill="#14166e"/><ellipse cx="448.8" cy="228.0" rx="2.0" ry="1.0" transform="rotate(75 448.8 228.0)" fill="#121466"/><ellipse cx="463.0" cy="255.5" rx="2.0" ry="1.5" transform="rotate(147 463.0 255.5)" fill="#161878"/><ellipse cx="462.2" cy="238.7" rx="1.9" ry="1.4" transform="rotate(102 462.2 238.7)" fill="#161878"/><ellipse cx="462.7" cy="259.2" rx="1.8" ry="1.1" transform="rotate(176 462.7 259.2)" fill="#161878"/><ellipse cx="434.0" cy="234.1" rx="2.1" ry="1.4" transform="rotate(18 434.0 234.1)" fill="#121466"/><ellipse cx="464.8" cy="248.6" rx="2.4" ry="1.2" transform="rotate(86 464.8 248.6)" fill="#161878"/><ellipse cx="447.9" cy="245.7" rx="1.7" ry="1.6" transform="rotate(144 447.9 245.7)" fill="#181a7c"/><ellipse cx="471.5" cy="252.4" rx="2.6" ry="1.1" transform="rotate(76 471.5 252.4)" fill="#121466"/><ellipse cx="450.5" cy="227.8" rx="1.7" ry="1.6" transform="rotate(107 450.5 227.8)" fill="#121466"/><ellipse cx="458.4" cy="258.8" rx="2.8" ry="1.2" transform="rotate(66 458.4 258.8)" fill="#14166e"/><ellipse cx="454.1" cy="236.9" rx="2.3" ry="1.2" transform="rotate(102 454.1 236.9)" fill="#181a7c"/><ellipse cx="445.9" cy="260.3" rx="1.6" ry="1.1" transform="rotate(119 445.9 260.3)" fill="#14166e"/><ellipse cx="465.8" cy="245.7" rx="2.6" ry="1.2" transform="rotate(159 465.8 245.7)" fill="#161878"/><ellipse cx="448.9" cy="257.8" rx="2.0" ry="1.0" transform="rotate(128 448.9 257.8)" fill="#121466"/><ellipse cx="452.9" cy="261.8" rx="1.9" ry="1.2" transform="rotate(72 452.9 261.8)" fill="#161878"/><ellipse cx="432.2" cy="255.2" rx="2.3" ry="1.5" transform="rotate(133 432.2 255.2)" fill="#121466"/><ellipse cx="470.9" cy="248.1" rx="2.7" ry="1.4" transform="rotate(32 470.9 248.1)" fill="#181a7c"/><ellipse cx="475.0" cy="234.6" rx="1.5" ry="1.3" transform="rotate(98 475.0 234.6)" fill="#121466"/><ellipse cx="458.3" cy="261.0" rx="1.6" ry="1.0" transform="rotate(133 458.3 261.0)" fill="#121466"/><ellipse cx="435.2" cy="253.0" rx="1.7" ry="1.5" transform="rotate(117 435.2 253.0)" fill="#161878"/><ellipse cx="466.6" cy="245.4" rx="2.8" ry="1.2" transform="rotate(83 466.6 245.4)" fill="#121466"/><ellipse cx="447.9" cy="270.4" rx="2.4" ry="1.3" transform="rotate(97 447.9 270.4)" fill="#14166e"/><ellipse cx="466.4" cy="267.6" rx="2.1" ry="1.6" transform="rotate(120 466.4 267.6)" fill="#14166e"/><ellipse cx="471.3" cy="263.4" rx="2.7" ry="1.7" transform="rotate(115 471.3 263.4)" fill="#121466"/><ellipse cx="466.5" cy="261.7" rx="2.1" ry="1.2" transform="rotate(26 466.5 261.7)" fill="#161878"/><ellipse cx="452.2" cy="235.2" rx="2.9" ry="0.9" transform="rotate(56 452.2 235.2)" fill="#14166e"/><ellipse cx="446.2" cy="228.1" rx="2.8" ry="1.6" transform="rotate(136 446.2 228.1)" fill="#14166e"/><ellipse cx="460.2" cy="267.3" rx="1.6" ry="1.0" transform="rotate(33 460.2 267.3)" fill="#161878"/><ellipse cx="460.4" cy="251.2" rx="2.2" ry="1.3" transform="rotate(80 460.4 251.2)" fill="#121466"/><ellipse cx="451.1" cy="267.4" rx="2.8" ry="1.4" transform="rotate(170 451.1 267.4)" fill="#181a7c"/><ellipse cx="473.7" cy="245.2" rx="2.1" ry="1.7" transform="rotate(119 473.7 245.2)" fill="#14166e"/><ellipse cx="455.1" cy="231.5" rx="1.6" ry="1.7" transform="rotate(144 455.1 231.5)" fill="#181a7c"/><ellipse cx="469.7" cy="261.0" rx="1.6" ry="1.6" transform="rotate(161 469.7 261.0)" fill="#181a7c"/><ellipse cx="476.3" cy="243.4" rx="1.8" ry="1.2" transform="rotate(157 476.3 243.4)" fill="#181a7c"/><ellipse cx="438.8" cy="236.7" rx="1.9" ry="1.6" transform="rotate(93 438.8 236.7)" fill="#121466"/></g>
</g>
<circle cx="485" cy="267.8" r="12.6" fill="url(#nuc)" filter="url(#bl1)"/>
<circle cx="485.5" cy="264.5" r="0.9" fill="#c0c0f0"/>
<circle cx="484.5" cy="268.5" r="0.9" fill="#c0c0f0"/>
<circle cx="467.4" cy="242.5" r="0.9" fill="#d04080"/>
<circle cx="472" cy="248.6" r="0.9" fill="#c03070"/>
<text transform="translate(485.5,220.9) scale(0.95,1)" font-family="Liberation Serif" font-size="5.6" font-weight="bold" fill="#e8c838" text-anchor="middle">DLBCL</text>
<text transform="translate(485.5,227.5) scale(0.95,1)" font-family="Liberation Serif" font-size="5.6" font-weight="bold" fill="#e8c838" text-anchor="middle">del(8p)</text>
<text transform="translate(485.5,234) scale(0.95,1)" font-family="Liberation Serif" font-size="5.6" font-weight="bold" fill="#e8c838" text-anchor="middle">RP11-89M8</text>
<text x="2.50" y="317.00" font-family="Liberation Sans" font-size="17.7" font-weight="bold" fill="#000" text-anchor="start" stroke="#000" stroke-width="0.14">E</text>
<line x1="99.40" y1="345.80" x2="99.40" y2="579.00" stroke="#bcbcc6" stroke-width="1.1" />
<line x1="251.30" y1="360.30" x2="251.30" y2="567.90" stroke="#bcbcc6" stroke-width="1.1" />
<line x1="266.60" y1="373.00" x2="266.60" y2="538.30" stroke="#bcbcc6" stroke-width="1.1" />
<line x1="392.60" y1="430.50" x2="392.60" y2="567.90" stroke="#bcbcc6" stroke-width="1.1" />
<line x1="402.80" y1="439.50" x2="402.80" y2="538.30" stroke="#bcbcc6" stroke-width="1.1" />
<line x1="434.40" y1="353.80" x2="434.40" y2="579.00" stroke="#bcbcc6" stroke-width="1.1" />
<line x1="75.80" y1="322.80" x2="489.40" y2="322.80" stroke="#3a3a3a" stroke-width="1.6" />
<line x1="91.30" y1="317.30" x2="91.30" y2="322.70" stroke="#222" stroke-width="1" />
<text x="83.30" y="312.00" font-family="Liberation Serif" font-size="7.7" font-weight="normal" fill="#111" text-anchor="start" stroke="#111" stroke-width="0.14">21,5 M</text>
<line x1="181.30" y1="317.30" x2="181.30" y2="322.70" stroke="#222" stroke-width="1" />
<text x="172.90" y="312.00" font-family="Liberation Serif" font-size="7.7" font-weight="normal" fill="#111" text-anchor="start" stroke="#111" stroke-width="0.14">22,0 M</text>
<line x1="278.80" y1="317.30" x2="278.80" y2="322.70" stroke="#222" stroke-width="1" />
<text x="271.90" y="312.00" font-family="Liberation Serif" font-size="7.7" font-weight="normal" fill="#111" text-anchor="start" stroke="#111" stroke-width="0.14">22,5 M</text>
<line x1="377.80" y1="317.30" x2="377.80" y2="322.70" stroke="#222" stroke-width="1" />
<text x="366.00" y="312.00" font-family="Liberation Serif" font-size="7.7" font-weight="normal" fill="#111" text-anchor="start" stroke="#111" stroke-width="0.14">23,0 M</text>
<line x1="466.70" y1="317.30" x2="466.70" y2="322.70" stroke="#222" stroke-width="1" />
<text x="454.80" y="312.00" font-family="Liberation Serif" font-size="7.7" font-weight="normal" fill="#111" text-anchor="start" stroke="#111" stroke-width="0.14">23,5 M</text>
<rect x="86.20" y="327.80" width="390.00" height="8.00" fill="#cac2bd" />
<text x="274.00" y="335.30" font-family="Liberation Serif" font-size="8" font-weight="bold" fill="#111" text-anchor="middle" stroke="#111" stroke-width="0.14">8p21.3</text>
<text x="62.40" y="337.30" font-family="Liberation Serif" font-size="12" font-weight="normal" fill="#111" text-anchor="start" stroke="#111" stroke-width="0.14">Tel</text>
<text x="481.00" y="335.90" font-family="Liberation Serif" font-size="12" font-weight="normal" fill="#111" text-anchor="start" stroke="#111" stroke-width="0.14">Cen</text>
<line x1="86.80" y1="345.80" x2="100.00" y2="345.80" stroke="#7cc242" stroke-width="2.4" />
<text x="102.00" y="348.70" font-family="Liberation Serif" font-size="8.2" font-weight="normal" fill="#111" text-anchor="start" stroke="#111" stroke-width="0.14">RP11-110I16</text>
<rect x="117.50" y="355.00" width="2.00" height="2.00" fill="#7cc242" />
<text x="123.00" y="359.00" font-family="Liberation Serif" font-size="8.2" font-weight="normal" fill="#111" text-anchor="start" stroke="#111" stroke-width="0.14">CTB-15N20</text>
<line x1="311.00" y1="342.40" x2="336.50" y2="342.40" stroke="#7cc242" stroke-width="2.4" />
<text x="343.80" y="345.30" font-family="Liberation Serif" font-size="8.8" font-weight="normal" fill="#111" text-anchor="start" stroke="#111" stroke-width="0.14">RP11-274M9</text>
<rect x="332.50" y="350.60" width="2.00" height="2.00" fill="#7cc242" />
<text x="338.00" y="354.60" font-family="Liberation Serif" font-size="8.2" font-weight="normal" fill="#111" text-anchor="start" stroke="#111" stroke-width="0.14">CTB-21P17</text>
<line x1="338.80" y1="358.00" x2="367.00" y2="358.00" stroke="#7cc242" stroke-width="2.4" />
<text x="370.40" y="360.90" font-family="Liberation Serif" font-size="8.2" font-weight="normal" fill="#111" text-anchor="start" stroke="#111" stroke-width="0.14">RP11-89M8</text>
<line x1="431.20" y1="353.80" x2="452.60" y2="353.80" stroke="#7cc242" stroke-width="2.4" />
<text x="457.20" y="356.70" font-family="Liberation Serif" font-size="8.9" font-weight="normal" fill="#111" text-anchor="start" stroke="#111" stroke-width="0.14">RP11-204M16</text>
<rect x="461.80" y="361.60" width="2.00" height="2.00" fill="#7cc242" />
<text x="468.00" y="365.80" font-family="Liberation Serif" font-size="8.9" font-weight="normal" fill="#111" text-anchor="start" stroke="#111" stroke-width="0.14">RP11-288N10</text>
<line x1="167.70" y1="349.80" x2="184.00" y2="349.80" stroke="#000" stroke-width="2.7" />
<text x="186.00" y="352.70" font-family="Liberation Serif" font-size="8.2" font-weight="normal" fill="#111" text-anchor="start" stroke="#111" stroke-width="0.14">RP11-67H12</text>
<line x1="222.00" y1="359.20" x2="255.00" y2="359.20" stroke="#000" stroke-width="2.7" />
<text x="257.30" y="362.10" font-family="Liberation Serif" font-size="8.2" font-weight="normal" fill="#111" text-anchor="start" stroke="#111" stroke-width="0.14">CTD-2036J07</text>
<line x1="239.50" y1="366.20" x2="272.00" y2="366.20" stroke="#000" stroke-width="2.7" />
<text x="275.40" y="369.10" font-family="Liberation Serif" font-size="8.2" font-weight="normal" fill="#111" text-anchor="start" stroke="#111" stroke-width="0.14">RP11-382J24</text>
<line x1="266.30" y1="372.90" x2="297.00" y2="372.90" stroke="#000" stroke-width="2.7" />
<text x="299.00" y="375.80" font-family="Liberation Serif" font-size="8.2" font-weight="normal" fill="#111" text-anchor="start" stroke="#111" stroke-width="0.14">RP11-582J16</text>
<line x1="295.60" y1="379.00" x2="310.40" y2="379.00" stroke="#000" stroke-width="2.7" />
<text x="313.60" y="381.90" font-family="Liberation Serif" font-size="8.2" font-weight="normal" fill="#111" text-anchor="start" stroke="#111" stroke-width="0.14">CTD-3247F14</text>
<line x1="307.70" y1="386.20" x2="333.00" y2="386.20" stroke="#000" stroke-width="2.7" />
<text x="334.60" y="389.10" font-family="Liberation Serif" font-size="8.2" font-weight="normal" fill="#111" text-anchor="start" stroke="#111" stroke-width="0.14">RP11-459F5</text>
<line x1="322.00" y1="393.80" x2="346.20" y2="393.80" stroke="#000" stroke-width="2.7" />
<text x="348.50" y="396.70" font-family="Liberation Serif" font-size="8.2" font-weight="normal" fill="#111" text-anchor="start" stroke="#111" stroke-width="0.14">RP11-87F22</text>
<line x1="339.20" y1="400.00" x2="365.80" y2="400.00" stroke="#000" stroke-width="2.7" />
<text x="367.60" y="402.90" font-family="Liberation Serif" font-size="8.2" font-weight="normal" fill="#111" text-anchor="start" stroke="#111" stroke-width="0.14">RP11-89M8</text>
<line x1="350.40" y1="406.80" x2="386.40" y2="406.80" stroke="#000" stroke-width="2.7" />
<text x="389.00" y="409.70" font-family="Liberation Serif" font-size="8.2" font-weight="normal" fill="#111" text-anchor="start" stroke="#111" stroke-width="0.14">RP11-875O11</text>
<line x1="365.00" y1="414.20" x2="380.60" y2="414.20" stroke="#000" stroke-width="2.7" />
<text x="383.80" y="417.10" font-family="Liberation Serif" font-size="8.2" font-weight="normal" fill="#111" text-anchor="start" stroke="#111" stroke-width="0.14">CTD-3188H20</text>
<line x1="382.40" y1="421.40" x2="409.30" y2="421.40" stroke="#000" stroke-width="2.7" />
<text x="411.50" y="424.30" font-family="Liberation Serif" font-size="8.2" font-weight="normal" fill="#111" text-anchor="start" stroke="#111" stroke-width="0.14">RP11-1149O23</text>
<text x="421.50" y="431.50" font-family="Liberation Serif" font-size="8.2" font-weight="normal" fill="#111" text-anchor="start" stroke="#111" stroke-width="0.14">RP11-109B10</text>
<line x1="399.20" y1="436.10" x2="428.50" y2="436.10" stroke="#000" stroke-width="2.7" />
<text x="430.50" y="439.00" font-family="Liberation Serif" font-size="8.8" font-weight="normal" fill="#111" text-anchor="start" stroke="#111" stroke-width="0.14">RP11-177H13</text>
<line x1="249.40" y1="387.00" x2="265.80" y2="387.00" stroke="#1c1c70" stroke-width="2.8" />
<text x="248.40" y="389.90" font-family="Liberation Serif" font-size="8.2" font-weight="normal" fill="#2c2c8a" text-anchor="end" stroke="#2c2c8a" stroke-width="0.14">PPP3CC</text>
<line x1="272.00" y1="391.40" x2="277.50" y2="391.40" stroke="#1c1c70" stroke-width="2.8" />
<text x="281.60" y="394.30" font-family="Liberation Serif" font-size="8.2" font-weight="normal" fill="#2c2c8a" text-anchor="start" stroke="#2c2c8a" stroke-width="0.14">SCAM-1</text>
<line x1="278.80" y1="399.60" x2="280.40" y2="399.60" stroke="#1c1c70" stroke-width="2.8" />
<text x="284.30" y="402.50" font-family="Liberation Serif" font-size="8.2" font-weight="normal" fill="#2c2c8a" text-anchor="start" stroke="#2c2c8a" stroke-width="0.14">PDLIM2</text>
<line x1="285.60" y1="407.00" x2="287.00" y2="407.00" stroke="#1c1c70" stroke-width="2.8" />
<text x="289.60" y="409.90" font-family="Liberation Serif" font-size="8.2" font-weight="normal" fill="#2c2c8a" text-anchor="start" stroke="#2c2c8a" stroke-width="0.14">DBC1</text>
<line x1="287.30" y1="415.00" x2="297.70" y2="415.00" stroke="#1c1c70" stroke-width="2.8" />
<text x="301.20" y="417.90" font-family="Liberation Serif" font-size="8.2" font-weight="normal" fill="#2c2c8a" text-anchor="start" stroke="#2c2c8a" stroke-width="0.14">BIN3</text>
<line x1="289.00" y1="423.20" x2="290.40" y2="423.20" stroke="#1c1c70" stroke-width="2.8" />
<text x="294.20" y="426.10" font-family="Liberation Serif" font-size="8.2" font-weight="normal" fill="#2c2c8a" text-anchor="start" stroke="#2c2c8a" stroke-width="0.14">FLJ14107</text>
<line x1="315.70" y1="430.80" x2="317.30" y2="430.80" stroke="#1c1c70" stroke-width="2.8" />
<text x="320.80" y="433.70" font-family="Liberation Serif" font-size="8.2" font-weight="normal" fill="#2c2c8a" text-anchor="start" stroke="#2c2c8a" stroke-width="0.14">EGR3</text>
<line x1="320.30" y1="437.20" x2="355.40" y2="437.20" stroke="#1c1c70" stroke-width="2.8" />
<text x="358.50" y="440.10" font-family="Liberation Serif" font-size="8.2" font-weight="normal" fill="#2c2c8a" text-anchor="start" stroke="#2c2c8a" stroke-width="0.14">PEBP4</text>
<line x1="363.00" y1="443.40" x2="367.20" y2="443.40" stroke="#1c1c70" stroke-width="2.8" />
<text x="370.00" y="446.30" font-family="Liberation Serif" font-size="8.2" font-weight="normal" fill="#2c2c8a" text-anchor="start" stroke="#2c2c8a" stroke-width="0.14">DBC2</text>
<line x1="366.50" y1="452.60" x2="378.00" y2="452.60" stroke="#1c1c70" stroke-width="2.8" />
<text x="380.40" y="455.50" font-family="Liberation Serif" font-size="7.2" font-weight="normal" fill="#2c2c8a" text-anchor="start" stroke="#2c2c8a" stroke-width="0.14">TRAIL-R2</text>
<line x1="383.20" y1="461.00" x2="385.80" y2="461.00" stroke="#1c1c70" stroke-width="2.8" />
<text x="388.30" y="463.90" font-family="Liberation Serif" font-size="8.2" font-weight="normal" fill="#2c2c8a" text-anchor="start" stroke="#2c2c8a" stroke-width="0.14">TRAIL-R3</text>
<line x1="391.20" y1="469.30" x2="396.40" y2="469.30" stroke="#1c1c70" stroke-width="2.8" />
<text x="398.00" y="472.20" font-family="Liberation Serif" font-size="8.2" font-weight="normal" fill="#2c2c8a" text-anchor="start" stroke="#2c2c8a" stroke-width="0.14">TRAIL-R4</text>
<line x1="401.20" y1="477.00" x2="407.20" y2="477.00" stroke="#1c1c70" stroke-width="2.8" />
<text x="409.50" y="479.90" font-family="Liberation Serif" font-size="8.2" font-weight="normal" fill="#2c2c8a" text-anchor="start" stroke="#2c2c8a" stroke-width="0.14">TRAIL-R1</text>
<line x1="407.20" y1="485.70" x2="409.50" y2="485.70" stroke="#1c1c70" stroke-width="2.8" />
<text x="412.30" y="488.60" font-family="Liberation Serif" font-size="8.2" font-weight="normal" fill="#2c2c8a" text-anchor="start" stroke="#2c2c8a" stroke-width="0.14">MGC29816</text>
<line x1="412.20" y1="500.50" x2="434.50" y2="500.50" stroke="#1c1c70" stroke-width="3.4" />
<text x="437.70" y="504.00" font-family="Liberation Serif" font-size="8.2" font-weight="normal" fill="#2c2c8a" text-anchor="start" stroke="#2c2c8a" stroke-width="0.14">LOXL2</text>
<line x1="266.90" y1="492.80" x2="419.50" y2="492.80" stroke="#111" stroke-width="1.3" />
<line x1="420.00" y1="492.80" x2="446.00" y2="492.80" stroke="#111" stroke-width="1.1" stroke-dasharray="1,1"/>
<line x1="266.90" y1="488.60" x2="266.90" y2="497.00" stroke="#111" stroke-width="1.3" />
<text x="341.50" y="489.40" font-family="Liberation Serif" font-size="9.9" font-weight="bold" fill="#111" text-anchor="middle" stroke="#111" stroke-width="0.14">PR-1</text>
<line x1="243.80" y1="505.00" x2="402.90" y2="505.00" stroke="#111" stroke-width="1.3" />
<line x1="243.80" y1="500.60" x2="243.80" y2="509.20" stroke="#111" stroke-width="1.3" />
<line x1="402.90" y1="500.60" x2="402.90" y2="509.20" stroke="#111" stroke-width="1.3" />
<text x="323.50" y="503.20" font-family="Liberation Serif" font-size="9.9" font-weight="bold" fill="#111" text-anchor="middle" stroke="#111" stroke-width="0.14">Z-138</text>
<line x1="208.80" y1="516.00" x2="227.70" y2="516.00" stroke="#111" stroke-width="1.1" stroke-dasharray="1,1"/>
<line x1="227.70" y1="516.00" x2="422.00" y2="516.00" stroke="#111" stroke-width="1.3" />
<line x1="422.00" y1="512.20" x2="422.00" y2="520.40" stroke="#111" stroke-width="1.3" />
<text x="225.20" y="513.80" font-family="Liberation Serif" font-size="9.9" font-weight="bold" fill="#111" text-anchor="middle" stroke="#111" stroke-width="0.14">P005</text>
<line x1="266.00" y1="538.30" x2="403.40" y2="538.30" stroke="#e03a24" stroke-width="2.2" />
<text x="341.00" y="535.30" font-family="Liberation Serif" font-size="9.9" font-weight="bold" fill="#111" text-anchor="middle" stroke="#111" stroke-width="0.14">FISH deletion</text>
<line x1="253.30" y1="567.90" x2="392.20" y2="567.90" stroke="#6b3a1a" stroke-width="2.2" />
<text x="324.30" y="563.60" font-family="Liberation Serif" font-size="9.9" font-weight="bold" fill="#111" text-anchor="middle" stroke="#111" stroke-width="0.14">SMRT-array CGH deletion</text>
<line x1="100.80" y1="579.30" x2="435.20" y2="579.30" stroke="#6e3a14" stroke-width="2.6" />
<text x="270.40" y="591.70" font-family="Liberation Serif" font-size="9.9" font-weight="bold" fill="#111" text-anchor="middle" stroke="#111" stroke-width="0.14">Array-CGH deletion</text>
<rect x="3.3" y="393.3" width="180.9" height="150.7" fill="#fff" stroke="#444" stroke-width="1.3"/>
<defs><clipPath id="cpI"><rect x="15" y="401" width="12.7" height="134.6" rx="1.8"/></clipPath></defs>
<g clip-path="url(#cpI)">
<rect x="15.00" y="401.00" width="12.70" height="6.40" fill="#c8c0b8" />
<rect x="15.00" y="407.40" width="12.70" height="11.80" fill="#000" />
<rect x="15.00" y="419.20" width="12.70" height="18.30" fill="#c8c0b8" />
<rect x="15.00" y="437.50" width="12.70" height="17.40" fill="#000" />
<rect x="15.00" y="454.90" width="12.70" height="11.80" fill="#c8c0b8" />
<rect x="15.00" y="466.70" width="12.70" height="12.80" fill="#000" />
<rect x="15.00" y="479.50" width="12.70" height="4.80" fill="#c8c0b8" />
<rect x="15.00" y="484.30" width="12.70" height="27.60" fill="#000" />
<rect x="15.00" y="511.90" width="12.70" height="1.10" fill="#e8e0d8" />
<rect x="15.00" y="513.00" width="12.70" height="1.80" fill="#8a8078" />
<rect x="15.00" y="514.80" width="12.70" height="1.20" fill="#000" />
<rect x="15.00" y="516.00" width="12.70" height="8.60" fill="#d8ccc0" />
<rect x="15.00" y="524.60" width="12.70" height="1.20" fill="#888" />
<rect x="15.00" y="525.80" width="12.70" height="5.20" fill="#b8d0ec" />
<rect x="15.00" y="531.00" width="12.70" height="1.00" fill="#40508a" />
<rect x="15.00" y="532.00" width="12.70" height="3.60" fill="#b0c8e8" />
</g>
<rect x="15" y="401" width="12.7" height="134.6" rx="1.8" fill="none" stroke="#555" stroke-width="0.5"/>
<text transform="translate(33.8,406.6) scale(0.95,1)" font-family="Liberation Sans" font-size="3.1" font-weight="bold" fill="#222">8p23.3</text>
<text transform="translate(33.8,415.6) scale(0.95,1)" font-family="Liberation Sans" font-size="3.1" font-weight="bold" fill="#222">8p23.2</text>
<text transform="translate(33.8,430.6) scale(0.95,1)" font-family="Liberation Sans" font-size="3.1" font-weight="bold" fill="#222">8p23.1</text>
<text transform="translate(33.8,448.6) scale(0.95,1)" font-family="Liberation Sans" font-size="3.1" font-weight="bold" fill="#222">8p22</text>
<text transform="translate(33.8,463.1) scale(0.95,1)" font-family="Liberation Sans" font-size="3.1" font-weight="bold" fill="#222">8p21.3</text>
<text transform="translate(33.8,476.1) scale(0.95,1)" font-family="Liberation Sans" font-size="3.1" font-weight="bold" fill="#222">8p21.2</text>
<text transform="translate(33.8,484.1) scale(0.95,1)" font-family="Liberation Sans" font-size="3.1" font-weight="bold" fill="#222">8p21.1</text>
<text transform="translate(33.8,501.1) scale(0.95,1)" font-family="Liberation Sans" font-size="3.1" font-weight="bold" fill="#222">8p12</text>
<text transform="translate(33.8,515.6) scale(0.95,1)" font-family="Liberation Sans" font-size="3.1" font-weight="bold" fill="#222">8p11.23</text>
<text transform="translate(33.8,518.9) scale(0.95,1)" font-family="Liberation Sans" font-size="3.1" font-weight="bold" fill="#222">8p11.22</text>
<text transform="translate(33.8,523.1) scale(0.95,1)" font-family="Liberation Sans" font-size="3.1" font-weight="bold" fill="#222">8p11.21</text>
<text transform="translate(33.8,532.1) scale(0.95,1)" font-family="Liberation Sans" font-size="3.1" font-weight="bold" fill="#222">8p11.1</text>
<text x="60.80" y="399.80" font-family="Liberation Serif" font-size="6.7" font-weight="normal" fill="#222" text-anchor="middle" >-0.5</text>
<text x="78.60" y="399.80" font-family="Liberation Serif" font-size="6.7" font-weight="normal" fill="#222" text-anchor="middle" >0.5</text>
<line x1="60.80" y1="402.00" x2="60.80" y2="526.00" stroke="#e6d6d0" stroke-width="0.7" />
<line x1="78.60" y1="402.00" x2="78.60" y2="526.00" stroke="#e8b4ac" stroke-width="1" />
<line x1="69.70" y1="402.00" x2="69.70" y2="526.00" stroke="#c08890" stroke-width="0.6" />
<g fill="#444"><rect x="60.3" y="431.8" width="0.9" height="0.9"/><rect x="67.8" y="476.1" width="0.9" height="0.9"/><rect x="68.4" y="478.7" width="0.9" height="0.9"/><rect x="68.3" y="504.3" width="0.9" height="0.9"/><rect x="63.5" y="434.4" width="0.9" height="0.9"/><rect x="71.2" y="459.9" width="0.9" height="0.9"/><rect x="65.9" y="504.2" width="0.9" height="0.9"/><rect x="63.2" y="421.2" width="0.9" height="0.9"/><rect x="69.5" y="479.8" width="0.9" height="0.9"/><rect x="66.8" y="492.7" width="0.9" height="0.9"/><rect x="70.7" y="484.2" width="0.9" height="0.9"/><rect x="69.3" y="474.5" width="0.9" height="0.9"/><rect x="67.8" y="439.5" width="0.9" height="0.9"/><rect x="63.7" y="460.2" width="0.9" height="0.9"/><rect x="70.0" y="490.0" width="0.9" height="0.9"/><rect x="66.5" y="514.5" width="0.9" height="0.9"/><rect x="63.6" y="450.8" width="0.9" height="0.9"/><rect x="66.6" y="516.2" width="0.9" height="0.9"/><rect x="68.9" y="509.3" width="0.9" height="0.9"/><rect x="63.5" y="429.3" width="0.9" height="0.9"/><rect x="66.1" y="519.8" width="0.9" height="0.9"/><rect x="64.1" y="439.4" width="0.9" height="0.9"/><rect x="60.9" y="464.4" width="0.9" height="0.9"/><rect x="69.2" y="473.8" width="0.9" height="0.9"/><rect x="70.2" y="473.7" width="0.9" height="0.9"/><rect x="66.8" y="515.4" width="0.9" height="0.9"/><rect x="70.6" y="506.6" width="0.9" height="0.9"/><rect x="62.5" y="422.7" width="0.9" height="0.9"/><rect x="71.6" y="507.1" width="0.9" height="0.9"/><rect x="67.4" y="471.9" width="0.9" height="0.9"/><rect x="68.9" y="489.4" width="0.9" height="0.9"/><rect x="71.1" y="472.4" width="0.9" height="0.9"/><rect x="67.4" y="437.5" width="0.9" height="0.9"/><rect x="69.4" y="522.8" width="0.9" height="0.9"/><rect x="63.5" y="413.7" width="0.9" height="0.9"/><rect x="60.2" y="421.2" width="0.9" height="0.9"/><rect x="63.3" y="438.6" width="0.9" height="0.9"/><rect x="57.5" y="408.3" width="0.9" height="0.9"/><rect x="70.6" y="477.4" width="0.9" height="0.9"/><rect x="63.9" y="443.0" width="0.9" height="0.9"/><rect x="70.1" y="509.6" width="0.9" height="0.9"/><rect x="68.0" y="523.8" width="0.9" height="0.9"/><rect x="65.8" y="440.5" width="0.9" height="0.9"/><rect x="64.3" y="406.8" width="0.9" height="0.9"/><rect x="59.7" y="426.9" width="0.9" height="0.9"/><rect x="64.7" y="421.9" width="0.9" height="0.9"/><rect x="64.2" y="408.1" width="0.9" height="0.9"/><rect x="67.2" y="519.0" width="0.9" height="0.9"/><rect x="66.9" y="511.5" width="0.9" height="0.9"/><rect x="64.7" y="465.9" width="0.9" height="0.9"/><rect x="66.5" y="480.9" width="0.9" height="0.9"/><rect x="67.0" y="478.0" width="0.9" height="0.9"/><rect x="66.5" y="516.8" width="0.9" height="0.9"/><rect x="68.1" y="490.2" width="0.9" height="0.9"/><rect x="60.4" y="431.8" width="0.9" height="0.9"/><rect x="69.5" y="466.1" width="0.9" height="0.9"/><rect x="65.4" y="469.4" width="0.9" height="0.9"/><rect x="68.3" y="473.2" width="0.9" height="0.9"/><rect x="60.0" y="405.4" width="0.9" height="0.9"/><rect x="60.3" y="410.3" width="0.9" height="0.9"/><rect x="65.8" y="478.9" width="0.9" height="0.9"/><rect x="63.5" y="445.7" width="0.9" height="0.9"/><rect x="68.2" y="488.5" width="0.9" height="0.9"/><rect x="62.2" y="410.3" width="0.9" height="0.9"/><rect x="69.4" y="484.8" width="0.9" height="0.9"/><rect x="62.2" y="458.2" width="0.9" height="0.9"/><rect x="67.6" y="474.7" width="0.9" height="0.9"/><rect x="64.9" y="440.8" width="0.9" height="0.9"/><rect x="60.9" y="447.7" width="0.9" height="0.9"/><rect x="61.5" y="448.6" width="0.9" height="0.9"/><rect x="70.2" y="496.4" width="0.9" height="0.9"/><rect x="68.5" y="492.0" width="0.9" height="0.9"/><rect x="63.5" y="440.5" width="0.9" height="0.9"/><rect x="67.3" y="431.9" width="0.9" height="0.9"/><rect x="59.0" y="425.7" width="0.9" height="0.9"/><rect x="64.3" y="415.3" width="0.9" height="0.9"/><rect x="60.2" y="442.0" width="0.9" height="0.9"/><rect x="67.0" y="456.1" width="0.9" height="0.9"/><rect x="68.9" y="506.5" width="0.9" height="0.9"/><rect x="69.5" y="481.7" width="0.9" height="0.9"/><rect x="67.1" y="510.1" width="0.9" height="0.9"/><rect x="63.3" y="417.6" width="0.9" height="0.9"/><rect x="64.4" y="467.1" width="0.9" height="0.9"/><rect x="70.9" y="504.5" width="0.9" height="0.9"/><rect x="61.9" y="425.2" width="0.9" height="0.9"/><rect x="71.1" y="480.7" width="0.9" height="0.9"/><rect x="67.7" y="500.6" width="0.9" height="0.9"/><rect x="63.8" y="438.3" width="0.9" height="0.9"/><rect x="68.0" y="499.1" width="0.9" height="0.9"/><rect x="65.1" y="453.4" width="0.9" height="0.9"/><rect x="57.8" y="453.8" width="0.9" height="0.9"/><rect x="65.9" y="421.9" width="0.9" height="0.9"/><rect x="67.7" y="403.6" width="0.9" height="0.9"/><rect x="67.1" y="522.4" width="0.9" height="0.9"/><rect x="68.4" y="455.6" width="0.9" height="0.9"/><rect x="60.9" y="429.9" width="0.9" height="0.9"/><rect x="69.4" y="493.2" width="0.9" height="0.9"/><rect x="59.4" y="465.8" width="0.9" height="0.9"/><rect x="61.7" y="438.0" width="0.9" height="0.9"/><rect x="64.3" y="411.2" width="0.9" height="0.9"/><rect x="67.5" y="474.2" width="0.9" height="0.9"/><rect x="67.3" y="408.5" width="0.9" height="0.9"/><rect x="66.9" y="512.3" width="0.9" height="0.9"/><rect x="64.8" y="511.5" width="0.9" height="0.9"/><rect x="68.0" y="511.9" width="0.9" height="0.9"/><rect x="68.1" y="493.2" width="0.9" height="0.9"/><rect x="61.5" y="423.8" width="0.9" height="0.9"/><rect x="66.3" y="466.5" width="0.9" height="0.9"/><rect x="66.0" y="453.1" width="0.9" height="0.9"/><rect x="61.4" y="444.3" width="0.9" height="0.9"/><rect x="64.6" y="433.5" width="0.9" height="0.9"/><rect x="66.8" y="497.7" width="0.9" height="0.9"/><rect x="63.7" y="445.6" width="0.9" height="0.9"/><rect x="70.1" y="501.8" width="0.9" height="0.9"/><rect x="64.2" y="423.7" width="0.9" height="0.9"/><rect x="64.7" y="500.5" width="0.9" height="0.9"/><rect x="70.4" y="502.6" width="0.9" height="0.9"/><rect x="68.3" y="507.4" width="0.9" height="0.9"/><rect x="62.4" y="409.0" width="0.9" height="0.9"/><rect x="64.7" y="466.8" width="0.9" height="0.9"/><rect x="58.3" y="454.2" width="0.9" height="0.9"/><rect x="63.5" y="403.2" width="0.9" height="0.9"/><rect x="63.6" y="409.6" width="0.9" height="0.9"/><rect x="63.7" y="411.3" width="0.9" height="0.9"/><rect x="68.6" y="520.9" width="0.9" height="0.9"/><rect x="61.8" y="463.8" width="0.9" height="0.9"/><rect x="61.7" y="441.2" width="0.9" height="0.9"/><rect x="69.6" y="481.3" width="0.9" height="0.9"/><rect x="67.5" y="474.0" width="0.9" height="0.9"/><rect x="64.0" y="442.8" width="0.9" height="0.9"/><rect x="58.8" y="418.0" width="0.9" height="0.9"/><rect x="61.3" y="449.0" width="0.9" height="0.9"/><rect x="63.8" y="412.7" width="0.9" height="0.9"/><rect x="69.6" y="476.1" width="0.9" height="0.9"/><rect x="66.1" y="497.7" width="0.9" height="0.9"/><rect x="70.2" y="478.4" width="0.9" height="0.9"/><rect x="60.6" y="455.2" width="0.9" height="0.9"/><rect x="69.5" y="488.0" width="0.9" height="0.9"/><rect x="61.7" y="453.9" width="0.9" height="0.9"/><rect x="60.0" y="432.7" width="0.9" height="0.9"/><rect x="62.4" y="467.8" width="0.9" height="0.9"/><rect x="61.8" y="454.4" width="0.9" height="0.9"/><rect x="67.1" y="454.5" width="0.9" height="0.9"/><rect x="58.5" y="448.3" width="0.9" height="0.9"/><rect x="68.5" y="511.6" width="0.9" height="0.9"/><rect x="60.7" y="459.2" width="0.9" height="0.9"/><rect x="64.2" y="417.9" width="0.9" height="0.9"/><rect x="66.0" y="510.4" width="0.9" height="0.9"/><rect x="66.9" y="498.9" width="0.9" height="0.9"/><rect x="65.9" y="471.2" width="0.9" height="0.9"/><rect x="62.5" y="415.5" width="0.9" height="0.9"/><rect x="62.6" y="420.4" width="0.9" height="0.9"/><rect x="68.9" y="496.7" width="0.9" height="0.9"/><rect x="63.0" y="415.0" width="0.9" height="0.9"/><rect x="68.4" y="509.5" width="0.9" height="0.9"/><rect x="68.5" y="504.8" width="0.9" height="0.9"/><rect x="64.9" y="417.7" width="0.9" height="0.9"/><rect x="66.2" y="504.2" width="0.9" height="0.9"/><rect x="65.7" y="518.2" width="0.9" height="0.9"/><rect x="60.5" y="407.4" width="0.9" height="0.9"/><rect x="65.7" y="495.9" width="0.9" height="0.9"/><rect x="62.4" y="415.9" width="0.9" height="0.9"/><rect x="68.7" y="493.6" width="0.9" height="0.9"/><rect x="62.3" y="442.2" width="0.9" height="0.9"/><rect x="68.8" y="471.2" width="0.9" height="0.9"/><rect x="61.0" y="424.8" width="0.9" height="0.9"/><rect x="59.5" y="433.2" width="0.9" height="0.9"/><rect x="59.8" y="450.6" width="0.9" height="0.9"/><rect x="60.8" y="447.5" width="0.9" height="0.9"/><rect x="64.2" y="453.6" width="0.9" height="0.9"/><rect x="55.7" y="413.1" width="0.9" height="0.9"/><rect x="62.7" y="453.0" width="0.9" height="0.9"/><rect x="69.5" y="493.4" width="0.9" height="0.9"/><rect x="70.3" y="494.5" width="0.9" height="0.9"/><rect x="66.4" y="484.5" width="0.9" height="0.9"/><rect x="68.0" y="480.8" width="0.9" height="0.9"/><rect x="68.6" y="511.6" width="0.9" height="0.9"/><rect x="68.8" y="493.5" width="0.9" height="0.9"/><rect x="66.5" y="513.9" width="0.9" height="0.9"/><rect x="68.0" y="490.0" width="0.9" height="0.9"/><rect x="62.5" y="425.5" width="0.9" height="0.9"/><rect x="69.3" y="473.9" width="0.9" height="0.9"/><rect x="63.1" y="441.1" width="0.9" height="0.9"/><rect x="70.6" y="518.4" width="0.9" height="0.9"/><rect x="62.0" y="438.8" width="0.9" height="0.9"/><rect x="66.6" y="506.3" width="0.9" height="0.9"/><rect x="68.1" y="473.7" width="0.9" height="0.9"/><rect x="64.5" y="405.8" width="0.9" height="0.9"/><rect x="61.5" y="461.0" width="0.9" height="0.9"/><rect x="63.8" y="446.6" width="0.9" height="0.9"/><rect x="62.9" y="442.0" width="0.9" height="0.9"/><rect x="67.3" y="522.9" width="0.9" height="0.9"/><rect x="60.3" y="461.0" width="0.9" height="0.9"/><rect x="67.2" y="504.0" width="0.9" height="0.9"/><rect x="66.5" y="502.4" width="0.9" height="0.9"/><rect x="67.6" y="490.2" width="0.9" height="0.9"/><rect x="66.1" y="506.7" width="0.9" height="0.9"/><rect x="69.7" y="519.2" width="0.9" height="0.9"/><rect x="62.9" y="459.6" width="0.9" height="0.9"/><rect x="69.4" y="489.8" width="0.9" height="0.9"/><rect x="71.2" y="484.7" width="0.9" height="0.9"/><rect x="61.4" y="432.3" width="0.9" height="0.9"/><rect x="62.6" y="425.9" width="0.9" height="0.9"/><rect x="69.2" y="488.3" width="0.9" height="0.9"/><rect x="69.2" y="506.9" width="0.9" height="0.9"/><rect x="67.5" y="507.7" width="0.9" height="0.9"/><rect x="59.0" y="440.9" width="0.9" height="0.9"/><rect x="64.6" y="413.4" width="0.9" height="0.9"/><rect x="63.8" y="414.2" width="0.9" height="0.9"/><rect x="60.8" y="446.2" width="0.9" height="0.9"/><rect x="68.1" y="473.2" width="0.9" height="0.9"/><rect x="62.4" y="443.5" width="0.9" height="0.9"/><rect x="60.9" y="455.8" width="0.9" height="0.9"/><rect x="68.3" y="473.8" width="0.9" height="0.9"/><rect x="66.6" y="518.6" width="0.9" height="0.9"/><rect x="64.8" y="417.4" width="0.9" height="0.9"/><rect x="62.1" y="436.2" width="0.9" height="0.9"/><rect x="67.5" y="510.3" width="0.9" height="0.9"/><rect x="71.3" y="513.0" width="0.9" height="0.9"/><rect x="66.2" y="448.3" width="0.9" height="0.9"/><rect x="68.3" y="496.5" width="0.9" height="0.9"/><rect x="66.9" y="484.8" width="0.9" height="0.9"/><rect x="68.6" y="482.1" width="0.9" height="0.9"/><rect x="67.0" y="494.3" width="0.9" height="0.9"/><rect x="67.3" y="519.3" width="0.9" height="0.9"/><rect x="59.8" y="416.7" width="0.9" height="0.9"/><rect x="60.2" y="462.8" width="0.9" height="0.9"/><rect x="70.2" y="485.1" width="0.9" height="0.9"/><rect x="69.2" y="471.5" width="0.9" height="0.9"/><rect x="70.3" y="479.3" width="0.9" height="0.9"/><rect x="65.6" y="424.7" width="0.9" height="0.9"/><rect x="60.3" y="417.9" width="0.9" height="0.9"/><rect x="69.1" y="515.8" width="0.9" height="0.9"/><rect x="69.3" y="490.2" width="0.9" height="0.9"/><rect x="66.0" y="475.3" width="0.9" height="0.9"/><rect x="61.4" y="458.4" width="0.9" height="0.9"/><rect x="63.1" y="440.8" width="0.9" height="0.9"/><rect x="68.7" y="489.6" width="0.9" height="0.9"/><rect x="65.7" y="494.3" width="0.9" height="0.9"/><rect x="61.6" y="446.5" width="0.9" height="0.9"/><rect x="58.8" y="435.2" width="0.9" height="0.9"/><rect x="66.2" y="408.1" width="0.9" height="0.9"/><rect x="62.8" y="464.1" width="0.9" height="0.9"/><rect x="67.1" y="445.8" width="0.9" height="0.9"/><rect x="60.0" y="443.3" width="0.9" height="0.9"/><rect x="69.3" y="496.4" width="0.9" height="0.9"/><rect x="63.4" y="445.7" width="0.9" height="0.9"/><rect x="61.7" y="435.7" width="0.9" height="0.9"/><rect x="66.1" y="415.1" width="0.9" height="0.9"/><rect x="70.0" y="491.0" width="0.9" height="0.9"/><rect x="63.7" y="425.4" width="0.9" height="0.9"/><rect x="69.7" y="492.9" width="0.9" height="0.9"/><rect x="68.2" y="501.7" width="0.9" height="0.9"/><rect x="59.2" y="420.7" width="0.9" height="0.9"/><rect x="63.8" y="451.2" width="0.9" height="0.9"/><rect x="70.0" y="471.8" width="0.9" height="0.9"/><rect x="62.7" y="427.5" width="0.9" height="0.9"/><rect x="67.2" y="406.6" width="0.9" height="0.9"/><rect x="71.2" y="500.2" width="0.9" height="0.9"/><rect x="58.7" y="449.4" width="0.9" height="0.9"/><rect x="59.5" y="469.9" width="0.9" height="0.9"/><rect x="67.1" y="521.2" width="0.9" height="0.9"/><rect x="67.2" y="486.1" width="0.9" height="0.9"/><rect x="67.6" y="461.6" width="0.9" height="0.9"/><rect x="68.2" y="475.8" width="0.9" height="0.9"/><rect x="68.1" y="496.2" width="0.9" height="0.9"/><rect x="66.3" y="483.1" width="0.9" height="0.9"/><rect x="62.9" y="458.7" width="0.9" height="0.9"/><rect x="62.0" y="426.4" width="0.9" height="0.9"/><rect x="62.6" y="463.6" width="0.9" height="0.9"/><rect x="66.3" y="481.2" width="0.9" height="0.9"/><rect x="68.9" y="519.0" width="0.9" height="0.9"/><rect x="70.1" y="510.9" width="0.9" height="0.9"/><rect x="70.3" y="478.4" width="0.9" height="0.9"/><rect x="61.5" y="409.1" width="0.9" height="0.9"/><rect x="64.2" y="412.4" width="0.9" height="0.9"/><rect x="64.8" y="468.2" width="0.9" height="0.9"/><rect x="67.6" y="508.3" width="0.9" height="0.9"/><rect x="70.3" y="487.1" width="0.9" height="0.9"/><rect x="70.6" y="475.7" width="0.9" height="0.9"/><rect x="67.6" y="515.2" width="0.9" height="0.9"/><rect x="58.5" y="444.6" width="0.9" height="0.9"/><rect x="71.1" y="500.6" width="0.9" height="0.9"/><rect x="60.6" y="455.9" width="0.9" height="0.9"/><rect x="67.4" y="494.6" width="0.9" height="0.9"/><rect x="62.8" y="408.2" width="0.9" height="0.9"/><rect x="63.2" y="412.4" width="0.9" height="0.9"/><rect x="64.2" y="463.2" width="0.9" height="0.9"/><rect x="66.6" y="487.6" width="0.9" height="0.9"/><rect x="67.8" y="481.6" width="0.9" height="0.9"/><rect x="58.4" y="439.9" width="0.9" height="0.9"/><rect x="63.7" y="451.6" width="0.9" height="0.9"/><rect x="66.0" y="424.9" width="0.9" height="0.9"/><rect x="60.3" y="447.4" width="0.9" height="0.9"/><rect x="59.3" y="447.9" width="0.9" height="0.9"/><rect x="62.1" y="430.1" width="0.9" height="0.9"/><rect x="63.9" y="403.3" width="0.9" height="0.9"/><rect x="67.1" y="420.4" width="0.9" height="0.9"/><rect x="63.3" y="458.7" width="0.9" height="0.9"/><rect x="64.4" y="423.7" width="0.9" height="0.9"/></g>
<text x="70.30" y="537.00" font-family="Liberation Serif" font-size="7.9" font-weight="bold" fill="#111" text-anchor="middle" >JVM-2</text>
<text x="98.50" y="399.80" font-family="Liberation Serif" font-size="6.7" font-weight="normal" fill="#222" text-anchor="middle" >-0.5</text>
<text x="115.90" y="399.80" font-family="Liberation Serif" font-size="6.7" font-weight="normal" fill="#222" text-anchor="middle" >0.5</text>
<line x1="98.50" y1="402.00" x2="98.50" y2="526.00" stroke="#e6d6d0" stroke-width="0.7" />
<line x1="115.90" y1="402.00" x2="115.90" y2="526.00" stroke="#e8b4ac" stroke-width="1" />
<line x1="107.20" y1="402.00" x2="107.20" y2="526.00" stroke="#c08890" stroke-width="0.6" />
<g fill="#444"><rect x="105.0" y="451.9" width="0.9" height="0.9"/><rect x="105.2" y="416.3" width="0.9" height="0.9"/><rect x="103.9" y="423.4" width="0.9" height="0.9"/><rect x="104.7" y="405.7" width="0.9" height="0.9"/><rect x="101.8" y="457.2" width="0.9" height="0.9"/><rect x="106.6" y="409.2" width="0.9" height="0.9"/><rect x="104.3" y="451.8" width="0.9" height="0.9"/><rect x="105.0" y="519.8" width="0.9" height="0.9"/><rect x="106.8" y="429.5" width="0.9" height="0.9"/><rect x="106.1" y="422.9" width="0.9" height="0.9"/><rect x="104.1" y="478.3" width="0.9" height="0.9"/><rect x="105.6" y="409.3" width="0.9" height="0.9"/><rect x="104.1" y="491.0" width="0.9" height="0.9"/><rect x="108.5" y="459.3" width="0.9" height="0.9"/><rect x="104.2" y="515.9" width="0.9" height="0.9"/><rect x="106.3" y="435.2" width="0.9" height="0.9"/><rect x="103.3" y="501.6" width="0.9" height="0.9"/><rect x="103.2" y="414.3" width="0.9" height="0.9"/><rect x="107.6" y="485.6" width="0.9" height="0.9"/><rect x="104.1" y="403.4" width="0.9" height="0.9"/><rect x="105.8" y="406.7" width="0.9" height="0.9"/><rect x="105.4" y="407.4" width="0.9" height="0.9"/><rect x="102.0" y="409.5" width="0.9" height="0.9"/><rect x="100.8" y="427.3" width="0.9" height="0.9"/><rect x="100.8" y="520.8" width="0.9" height="0.9"/><rect x="105.3" y="514.0" width="0.9" height="0.9"/><rect x="106.5" y="516.8" width="0.9" height="0.9"/><rect x="105.1" y="476.4" width="0.9" height="0.9"/><rect x="106.3" y="517.5" width="0.9" height="0.9"/><rect x="105.7" y="505.8" width="0.9" height="0.9"/><rect x="103.2" y="416.9" width="0.9" height="0.9"/><rect x="106.0" y="485.3" width="0.9" height="0.9"/><rect x="106.3" y="515.4" width="0.9" height="0.9"/><rect x="107.9" y="491.8" width="0.9" height="0.9"/><rect x="100.0" y="504.1" width="0.9" height="0.9"/><rect x="103.1" y="446.9" width="0.9" height="0.9"/><rect x="105.2" y="453.2" width="0.9" height="0.9"/><rect x="108.5" y="461.2" width="0.9" height="0.9"/><rect x="106.4" y="435.6" width="0.9" height="0.9"/><rect x="107.8" y="476.3" width="0.9" height="0.9"/><rect x="102.8" y="489.0" width="0.9" height="0.9"/><rect x="106.4" y="421.6" width="0.9" height="0.9"/><rect x="107.1" y="489.0" width="0.9" height="0.9"/><rect x="105.1" y="494.8" width="0.9" height="0.9"/><rect x="106.0" y="485.0" width="0.9" height="0.9"/><rect x="105.6" y="505.1" width="0.9" height="0.9"/><rect x="107.9" y="480.7" width="0.9" height="0.9"/><rect x="101.6" y="457.4" width="0.9" height="0.9"/><rect x="104.5" y="511.5" width="0.9" height="0.9"/><rect x="102.7" y="447.8" width="0.9" height="0.9"/><rect x="100.3" y="411.7" width="0.9" height="0.9"/><rect x="107.9" y="415.7" width="0.9" height="0.9"/><rect x="105.4" y="471.8" width="0.9" height="0.9"/><rect x="105.3" y="481.5" width="0.9" height="0.9"/><rect x="105.9" y="432.1" width="0.9" height="0.9"/><rect x="105.1" y="481.0" width="0.9" height="0.9"/><rect x="106.3" y="473.9" width="0.9" height="0.9"/><rect x="104.8" y="520.0" width="0.9" height="0.9"/><rect x="102.6" y="429.6" width="0.9" height="0.9"/><rect x="103.8" y="497.5" width="0.9" height="0.9"/><rect x="105.4" y="476.1" width="0.9" height="0.9"/><rect x="102.1" y="425.8" width="0.9" height="0.9"/><rect x="108.3" y="424.5" width="0.9" height="0.9"/><rect x="106.7" y="416.6" width="0.9" height="0.9"/><rect x="106.1" y="405.9" width="0.9" height="0.9"/><rect x="104.4" y="511.1" width="0.9" height="0.9"/><rect x="103.2" y="413.4" width="0.9" height="0.9"/><rect x="105.0" y="503.4" width="0.9" height="0.9"/><rect x="102.4" y="477.5" width="0.9" height="0.9"/><rect x="101.8" y="508.5" width="0.9" height="0.9"/><rect x="102.8" y="444.9" width="0.9" height="0.9"/><rect x="103.3" y="416.4" width="0.9" height="0.9"/><rect x="101.3" y="504.1" width="0.9" height="0.9"/><rect x="102.4" y="427.9" width="0.9" height="0.9"/><rect x="101.2" y="468.2" width="0.9" height="0.9"/><rect x="105.5" y="412.3" width="0.9" height="0.9"/><rect x="103.9" y="444.9" width="0.9" height="0.9"/><rect x="104.8" y="469.9" width="0.9" height="0.9"/><rect x="101.9" y="492.0" width="0.9" height="0.9"/><rect x="106.2" y="476.3" width="0.9" height="0.9"/><rect x="100.4" y="428.9" width="0.9" height="0.9"/><rect x="110.6" y="443.6" width="0.9" height="0.9"/><rect x="106.0" y="455.1" width="0.9" height="0.9"/><rect x="105.5" y="423.0" width="0.9" height="0.9"/><rect x="104.0" y="515.6" width="0.9" height="0.9"/><rect x="100.3" y="522.4" width="0.9" height="0.9"/><rect x="107.2" y="477.1" width="0.9" height="0.9"/><rect x="103.6" y="453.7" width="0.9" height="0.9"/><rect x="109.1" y="517.7" width="0.9" height="0.9"/><rect x="101.6" y="461.6" width="0.9" height="0.9"/><rect x="98.4" y="496.6" width="0.9" height="0.9"/><rect x="108.9" y="514.4" width="0.9" height="0.9"/><rect x="106.0" y="438.3" width="0.9" height="0.9"/><rect x="104.1" y="414.6" width="0.9" height="0.9"/><rect x="104.0" y="490.4" width="0.9" height="0.9"/><rect x="107.3" y="480.3" width="0.9" height="0.9"/><rect x="104.6" y="407.9" width="0.9" height="0.9"/><rect x="102.9" y="455.3" width="0.9" height="0.9"/><rect x="104.5" y="444.7" width="0.9" height="0.9"/><rect x="101.1" y="437.8" width="0.9" height="0.9"/><rect x="104.0" y="415.5" width="0.9" height="0.9"/><rect x="106.9" y="412.4" width="0.9" height="0.9"/><rect x="105.0" y="421.5" width="0.9" height="0.9"/><rect x="101.3" y="521.1" width="0.9" height="0.9"/><rect x="106.2" y="521.5" width="0.9" height="0.9"/><rect x="103.2" y="422.5" width="0.9" height="0.9"/><rect x="102.1" y="440.7" width="0.9" height="0.9"/><rect x="105.3" y="468.6" width="0.9" height="0.9"/><rect x="105.8" y="446.5" width="0.9" height="0.9"/><rect x="103.3" y="459.0" width="0.9" height="0.9"/><rect x="105.3" y="510.3" width="0.9" height="0.9"/><rect x="103.0" y="432.4" width="0.9" height="0.9"/><rect x="105.9" y="500.6" width="0.9" height="0.9"/><rect x="104.8" y="467.2" width="0.9" height="0.9"/><rect x="105.1" y="467.8" width="0.9" height="0.9"/><rect x="105.3" y="427.7" width="0.9" height="0.9"/><rect x="98.7" y="496.2" width="0.9" height="0.9"/><rect x="106.0" y="498.0" width="0.9" height="0.9"/><rect x="106.1" y="521.5" width="0.9" height="0.9"/><rect x="105.0" y="404.6" width="0.9" height="0.9"/><rect x="104.3" y="455.3" width="0.9" height="0.9"/><rect x="105.3" y="469.1" width="0.9" height="0.9"/><rect x="104.1" y="414.4" width="0.9" height="0.9"/><rect x="106.2" y="500.1" width="0.9" height="0.9"/><rect x="104.7" y="453.6" width="0.9" height="0.9"/><rect x="105.4" y="455.0" width="0.9" height="0.9"/><rect x="102.5" y="478.9" width="0.9" height="0.9"/><rect x="100.4" y="500.8" width="0.9" height="0.9"/><rect x="107.1" y="432.9" width="0.9" height="0.9"/><rect x="107.5" y="498.5" width="0.9" height="0.9"/><rect x="106.1" y="464.6" width="0.9" height="0.9"/><rect x="102.3" y="436.8" width="0.9" height="0.9"/><rect x="107.8" y="423.4" width="0.9" height="0.9"/><rect x="105.0" y="511.5" width="0.9" height="0.9"/><rect x="101.5" y="512.6" width="0.9" height="0.9"/><rect x="105.4" y="515.4" width="0.9" height="0.9"/><rect x="102.9" y="501.5" width="0.9" height="0.9"/><rect x="103.3" y="465.7" width="0.9" height="0.9"/><rect x="106.1" y="423.7" width="0.9" height="0.9"/><rect x="107.7" y="523.0" width="0.9" height="0.9"/><rect x="103.0" y="469.2" width="0.9" height="0.9"/><rect x="105.8" y="458.0" width="0.9" height="0.9"/><rect x="99.4" y="500.2" width="0.9" height="0.9"/><rect x="106.3" y="421.8" width="0.9" height="0.9"/><rect x="102.5" y="441.1" width="0.9" height="0.9"/><rect x="104.4" y="506.0" width="0.9" height="0.9"/><rect x="107.5" y="503.1" width="0.9" height="0.9"/><rect x="103.4" y="406.7" width="0.9" height="0.9"/><rect x="102.3" y="472.5" width="0.9" height="0.9"/><rect x="103.9" y="436.9" width="0.9" height="0.9"/><rect x="105.6" y="488.8" width="0.9" height="0.9"/><rect x="104.2" y="483.9" width="0.9" height="0.9"/><rect x="100.0" y="447.9" width="0.9" height="0.9"/><rect x="104.3" y="519.2" width="0.9" height="0.9"/><rect x="106.4" y="480.9" width="0.9" height="0.9"/><rect x="109.4" y="424.9" width="0.9" height="0.9"/><rect x="105.6" y="449.4" width="0.9" height="0.9"/><rect x="103.0" y="435.8" width="0.9" height="0.9"/><rect x="106.5" y="517.9" width="0.9" height="0.9"/><rect x="104.0" y="450.5" width="0.9" height="0.9"/><rect x="105.8" y="437.1" width="0.9" height="0.9"/><rect x="105.9" y="521.6" width="0.9" height="0.9"/><rect x="104.9" y="412.6" width="0.9" height="0.9"/><rect x="106.2" y="412.6" width="0.9" height="0.9"/><rect x="104.5" y="466.7" width="0.9" height="0.9"/><rect x="100.5" y="479.4" width="0.9" height="0.9"/><rect x="106.5" y="502.0" width="0.9" height="0.9"/><rect x="104.8" y="519.3" width="0.9" height="0.9"/><rect x="104.4" y="411.4" width="0.9" height="0.9"/><rect x="107.2" y="435.4" width="0.9" height="0.9"/><rect x="106.2" y="469.1" width="0.9" height="0.9"/><rect x="105.2" y="518.9" width="0.9" height="0.9"/><rect x="105.8" y="420.5" width="0.9" height="0.9"/><rect x="103.9" y="523.1" width="0.9" height="0.9"/><rect x="104.0" y="484.6" width="0.9" height="0.9"/><rect x="103.7" y="409.6" width="0.9" height="0.9"/><rect x="105.3" y="494.9" width="0.9" height="0.9"/><rect x="106.0" y="502.5" width="0.9" height="0.9"/><rect x="110.0" y="508.9" width="0.9" height="0.9"/><rect x="106.4" y="467.7" width="0.9" height="0.9"/><rect x="106.4" y="449.3" width="0.9" height="0.9"/><rect x="106.1" y="522.5" width="0.9" height="0.9"/><rect x="105.5" y="437.0" width="0.9" height="0.9"/><rect x="105.6" y="418.4" width="0.9" height="0.9"/><rect x="105.5" y="445.6" width="0.9" height="0.9"/><rect x="104.3" y="426.2" width="0.9" height="0.9"/><rect x="110.8" y="516.7" width="0.9" height="0.9"/><rect x="104.6" y="432.8" width="0.9" height="0.9"/><rect x="107.1" y="445.9" width="0.9" height="0.9"/><rect x="103.9" y="488.1" width="0.9" height="0.9"/><rect x="106.7" y="440.9" width="0.9" height="0.9"/><rect x="105.0" y="493.5" width="0.9" height="0.9"/><rect x="102.5" y="497.6" width="0.9" height="0.9"/><rect x="103.7" y="468.1" width="0.9" height="0.9"/><rect x="100.6" y="456.5" width="0.9" height="0.9"/><rect x="103.8" y="427.3" width="0.9" height="0.9"/><rect x="108.6" y="474.9" width="0.9" height="0.9"/><rect x="102.9" y="424.7" width="0.9" height="0.9"/><rect x="105.4" y="519.6" width="0.9" height="0.9"/><rect x="103.6" y="435.2" width="0.9" height="0.9"/><rect x="110.5" y="427.5" width="0.9" height="0.9"/><rect x="106.7" y="452.5" width="0.9" height="0.9"/><rect x="105.0" y="508.6" width="0.9" height="0.9"/><rect x="104.9" y="508.2" width="0.9" height="0.9"/><rect x="108.0" y="499.1" width="0.9" height="0.9"/><rect x="104.5" y="466.6" width="0.9" height="0.9"/><rect x="107.0" y="495.7" width="0.9" height="0.9"/><rect x="106.2" y="456.4" width="0.9" height="0.9"/><rect x="103.1" y="420.7" width="0.9" height="0.9"/><rect x="103.6" y="464.3" width="0.9" height="0.9"/><rect x="103.8" y="448.2" width="0.9" height="0.9"/><rect x="106.6" y="475.7" width="0.9" height="0.9"/><rect x="108.7" y="521.6" width="0.9" height="0.9"/><rect x="103.0" y="504.1" width="0.9" height="0.9"/><rect x="106.4" y="437.7" width="0.9" height="0.9"/><rect x="104.4" y="417.9" width="0.9" height="0.9"/><rect x="104.5" y="463.6" width="0.9" height="0.9"/><rect x="102.7" y="481.1" width="0.9" height="0.9"/><rect x="107.1" y="437.2" width="0.9" height="0.9"/><rect x="104.2" y="460.8" width="0.9" height="0.9"/><rect x="109.3" y="467.3" width="0.9" height="0.9"/><rect x="100.1" y="466.9" width="0.9" height="0.9"/><rect x="104.1" y="456.4" width="0.9" height="0.9"/><rect x="104.1" y="454.5" width="0.9" height="0.9"/><rect x="104.8" y="505.5" width="0.9" height="0.9"/><rect x="103.9" y="506.4" width="0.9" height="0.9"/><rect x="106.8" y="449.5" width="0.9" height="0.9"/><rect x="104.5" y="429.0" width="0.9" height="0.9"/><rect x="106.4" y="469.4" width="0.9" height="0.9"/><rect x="103.1" y="508.0" width="0.9" height="0.9"/><rect x="103.5" y="489.1" width="0.9" height="0.9"/><rect x="106.1" y="464.1" width="0.9" height="0.9"/><rect x="102.5" y="451.3" width="0.9" height="0.9"/><rect x="107.0" y="508.9" width="0.9" height="0.9"/><rect x="105.6" y="473.7" width="0.9" height="0.9"/><rect x="105.9" y="447.9" width="0.9" height="0.9"/><rect x="105.3" y="477.4" width="0.9" height="0.9"/><rect x="105.4" y="441.8" width="0.9" height="0.9"/><rect x="107.4" y="437.2" width="0.9" height="0.9"/><rect x="105.2" y="514.5" width="0.9" height="0.9"/><rect x="104.4" y="467.7" width="0.9" height="0.9"/><rect x="100.6" y="504.4" width="0.9" height="0.9"/><rect x="101.6" y="513.5" width="0.9" height="0.9"/><rect x="105.9" y="417.6" width="0.9" height="0.9"/><rect x="102.9" y="509.5" width="0.9" height="0.9"/><rect x="106.4" y="510.7" width="0.9" height="0.9"/><rect x="106.2" y="437.7" width="0.9" height="0.9"/><rect x="108.5" y="475.5" width="0.9" height="0.9"/><rect x="106.7" y="413.3" width="0.9" height="0.9"/><rect x="105.1" y="403.9" width="0.9" height="0.9"/><rect x="105.4" y="503.7" width="0.9" height="0.9"/><rect x="106.3" y="450.0" width="0.9" height="0.9"/><rect x="101.9" y="464.9" width="0.9" height="0.9"/><rect x="106.0" y="482.8" width="0.9" height="0.9"/><rect x="109.7" y="455.8" width="0.9" height="0.9"/><rect x="108.2" y="486.6" width="0.9" height="0.9"/><rect x="101.3" y="413.1" width="0.9" height="0.9"/><rect x="106.0" y="523.0" width="0.9" height="0.9"/><rect x="107.2" y="411.0" width="0.9" height="0.9"/><rect x="104.8" y="454.1" width="0.9" height="0.9"/><rect x="105.6" y="511.2" width="0.9" height="0.9"/><rect x="102.9" y="453.7" width="0.9" height="0.9"/><rect x="105.8" y="473.5" width="0.9" height="0.9"/><rect x="103.7" y="450.4" width="0.9" height="0.9"/><rect x="104.4" y="413.7" width="0.9" height="0.9"/><rect x="104.3" y="516.1" width="0.9" height="0.9"/><rect x="103.9" y="466.4" width="0.9" height="0.9"/><rect x="104.3" y="431.1" width="0.9" height="0.9"/><rect x="106.4" y="459.7" width="0.9" height="0.9"/><rect x="102.6" y="437.4" width="0.9" height="0.9"/><rect x="103.3" y="521.8" width="0.9" height="0.9"/><rect x="102.4" y="427.5" width="0.9" height="0.9"/><rect x="105.6" y="439.1" width="0.9" height="0.9"/><rect x="104.0" y="467.3" width="0.9" height="0.9"/><rect x="102.4" y="478.0" width="0.9" height="0.9"/><rect x="107.7" y="513.1" width="0.9" height="0.9"/><rect x="104.6" y="506.8" width="0.9" height="0.9"/><rect x="103.2" y="410.2" width="0.9" height="0.9"/><rect x="104.2" y="455.4" width="0.9" height="0.9"/><rect x="106.0" y="508.4" width="0.9" height="0.9"/><rect x="107.0" y="429.1" width="0.9" height="0.9"/><rect x="100.0" y="417.5" width="0.9" height="0.9"/><rect x="103.5" y="513.5" width="0.9" height="0.9"/><rect x="105.6" y="425.6" width="0.9" height="0.9"/><rect x="102.5" y="407.6" width="0.9" height="0.9"/><rect x="104.7" y="506.0" width="0.9" height="0.9"/><rect x="106.8" y="503.8" width="0.9" height="0.9"/><rect x="105.5" y="450.1" width="0.9" height="0.9"/><rect x="104.7" y="424.5" width="0.9" height="0.9"/><rect x="106.4" y="487.0" width="0.9" height="0.9"/><rect x="105.9" y="444.2" width="0.9" height="0.9"/><rect x="105.7" y="456.5" width="0.9" height="0.9"/><rect x="104.8" y="471.3" width="0.9" height="0.9"/><rect x="108.1" y="429.1" width="0.9" height="0.9"/><rect x="103.6" y="484.2" width="0.9" height="0.9"/><rect x="103.8" y="493.9" width="0.9" height="0.9"/><rect x="101.8" y="450.7" width="0.9" height="0.9"/><rect x="104.0" y="479.0" width="0.9" height="0.9"/><rect x="108.3" y="456.5" width="0.9" height="0.9"/><rect x="106.0" y="507.0" width="0.9" height="0.9"/></g>
<text x="108.50" y="537.00" font-family="Liberation Serif" font-size="7.9" font-weight="bold" fill="#111" text-anchor="middle" >Z-138</text>
<text x="138.80" y="399.80" font-family="Liberation Serif" font-size="6.7" font-weight="normal" fill="#222" text-anchor="middle" >-0.5</text>
<text x="159.60" y="399.80" font-family="Liberation Serif" font-size="6.7" font-weight="normal" fill="#222" text-anchor="middle" >0.5</text>
<line x1="138.80" y1="402.00" x2="138.80" y2="526.00" stroke="#e6d6d0" stroke-width="0.7" />
<line x1="159.60" y1="402.00" x2="159.60" y2="526.00" stroke="#e8b4ac" stroke-width="1" />
<line x1="149.20" y1="402.00" x2="149.20" y2="526.00" stroke="#c08890" stroke-width="0.6" />
<g fill="#444"><rect x="141.6" y="462.3" width="0.9" height="0.9"/><rect x="146.6" y="511.7" width="0.9" height="0.9"/><rect x="144.7" y="486.0" width="0.9" height="0.9"/><rect x="153.1" y="522.3" width="0.9" height="0.9"/><rect x="147.1" y="444.9" width="0.9" height="0.9"/><rect x="143.6" y="424.6" width="0.9" height="0.9"/><rect x="141.1" y="489.7" width="0.9" height="0.9"/><rect x="147.8" y="473.6" width="0.9" height="0.9"/><rect x="137.9" y="416.0" width="0.9" height="0.9"/><rect x="142.7" y="460.8" width="0.9" height="0.9"/><rect x="145.8" y="468.3" width="0.9" height="0.9"/><rect x="141.2" y="462.6" width="0.9" height="0.9"/><rect x="144.6" y="473.5" width="0.9" height="0.9"/><rect x="141.9" y="414.3" width="0.9" height="0.9"/><rect x="145.3" y="495.1" width="0.9" height="0.9"/><rect x="146.9" y="511.0" width="0.9" height="0.9"/><rect x="139.0" y="510.0" width="0.9" height="0.9"/><rect x="145.4" y="504.2" width="0.9" height="0.9"/><rect x="143.6" y="493.5" width="0.9" height="0.9"/><rect x="144.1" y="485.1" width="0.9" height="0.9"/><rect x="141.7" y="491.9" width="0.9" height="0.9"/><rect x="146.5" y="471.6" width="0.9" height="0.9"/><rect x="142.5" y="433.2" width="0.9" height="0.9"/><rect x="140.0" y="449.6" width="0.9" height="0.9"/><rect x="141.2" y="416.3" width="0.9" height="0.9"/><rect x="142.8" y="490.7" width="0.9" height="0.9"/><rect x="142.1" y="423.9" width="0.9" height="0.9"/><rect x="144.9" y="452.4" width="0.9" height="0.9"/><rect x="144.5" y="472.7" width="0.9" height="0.9"/><rect x="144.3" y="461.4" width="0.9" height="0.9"/><rect x="141.9" y="427.4" width="0.9" height="0.9"/><rect x="143.6" y="415.2" width="0.9" height="0.9"/><rect x="149.1" y="468.0" width="0.9" height="0.9"/><rect x="140.9" y="465.4" width="0.9" height="0.9"/><rect x="145.9" y="451.1" width="0.9" height="0.9"/><rect x="144.7" y="441.0" width="0.9" height="0.9"/><rect x="153.1" y="516.9" width="0.9" height="0.9"/><rect x="148.6" y="460.7" width="0.9" height="0.9"/><rect x="143.1" y="455.5" width="0.9" height="0.9"/><rect x="151.4" y="425.5" width="0.9" height="0.9"/><rect x="141.7" y="472.1" width="0.9" height="0.9"/><rect x="143.6" y="430.0" width="0.9" height="0.9"/><rect x="148.9" y="522.2" width="0.9" height="0.9"/><rect x="143.0" y="512.3" width="0.9" height="0.9"/><rect x="142.3" y="414.9" width="0.9" height="0.9"/><rect x="138.9" y="430.3" width="0.9" height="0.9"/><rect x="146.3" y="458.3" width="0.9" height="0.9"/><rect x="147.3" y="495.2" width="0.9" height="0.9"/><rect x="142.5" y="423.0" width="0.9" height="0.9"/><rect x="141.6" y="464.6" width="0.9" height="0.9"/><rect x="147.1" y="448.1" width="0.9" height="0.9"/><rect x="140.1" y="464.0" width="0.9" height="0.9"/><rect x="138.8" y="486.2" width="0.9" height="0.9"/><rect x="146.1" y="434.2" width="0.9" height="0.9"/><rect x="141.1" y="468.8" width="0.9" height="0.9"/><rect x="142.2" y="408.6" width="0.9" height="0.9"/><rect x="142.4" y="423.6" width="0.9" height="0.9"/><rect x="142.1" y="494.7" width="0.9" height="0.9"/><rect x="149.3" y="464.1" width="0.9" height="0.9"/><rect x="142.0" y="491.0" width="0.9" height="0.9"/><rect x="147.4" y="448.1" width="0.9" height="0.9"/><rect x="144.7" y="493.2" width="0.9" height="0.9"/><rect x="148.2" y="514.4" width="0.9" height="0.9"/><rect x="149.4" y="521.6" width="0.9" height="0.9"/><rect x="138.8" y="492.5" width="0.9" height="0.9"/><rect x="144.2" y="421.1" width="0.9" height="0.9"/><rect x="141.7" y="468.8" width="0.9" height="0.9"/><rect x="140.1" y="422.5" width="0.9" height="0.9"/><rect x="139.3" y="419.6" width="0.9" height="0.9"/><rect x="139.3" y="419.7" width="0.9" height="0.9"/><rect x="148.3" y="403.9" width="0.9" height="0.9"/><rect x="146.3" y="450.3" width="0.9" height="0.9"/><rect x="147.8" y="458.1" width="0.9" height="0.9"/><rect x="143.5" y="434.9" width="0.9" height="0.9"/><rect x="146.1" y="487.8" width="0.9" height="0.9"/><rect x="143.7" y="487.5" width="0.9" height="0.9"/><rect x="147.2" y="423.7" width="0.9" height="0.9"/><rect x="144.4" y="442.7" width="0.9" height="0.9"/><rect x="152.0" y="520.5" width="0.9" height="0.9"/><rect x="146.9" y="450.0" width="0.9" height="0.9"/><rect x="143.5" y="500.5" width="0.9" height="0.9"/><rect x="145.2" y="442.5" width="0.9" height="0.9"/><rect x="138.6" y="430.2" width="0.9" height="0.9"/><rect x="145.3" y="444.8" width="0.9" height="0.9"/><rect x="142.5" y="430.8" width="0.9" height="0.9"/><rect x="144.4" y="441.2" width="0.9" height="0.9"/><rect x="139.8" y="472.3" width="0.9" height="0.9"/><rect x="142.6" y="438.1" width="0.9" height="0.9"/><rect x="146.4" y="406.0" width="0.9" height="0.9"/><rect x="144.2" y="426.8" width="0.9" height="0.9"/><rect x="143.2" y="471.8" width="0.9" height="0.9"/><rect x="148.8" y="475.8" width="0.9" height="0.9"/><rect x="143.4" y="483.1" width="0.9" height="0.9"/><rect x="140.1" y="454.6" width="0.9" height="0.9"/><rect x="148.6" y="440.3" width="0.9" height="0.9"/><rect x="145.8" y="463.5" width="0.9" height="0.9"/><rect x="147.2" y="415.1" width="0.9" height="0.9"/><rect x="141.9" y="478.5" width="0.9" height="0.9"/><rect x="151.9" y="456.1" width="0.9" height="0.9"/><rect x="152.1" y="423.3" width="0.9" height="0.9"/><rect x="145.2" y="447.3" width="0.9" height="0.9"/><rect x="143.7" y="463.4" width="0.9" height="0.9"/><rect x="143.8" y="461.0" width="0.9" height="0.9"/><rect x="150.5" y="453.1" width="0.9" height="0.9"/><rect x="143.4" y="404.4" width="0.9" height="0.9"/><rect x="143.7" y="488.7" width="0.9" height="0.9"/><rect x="148.5" y="508.2" width="0.9" height="0.9"/><rect x="143.2" y="484.7" width="0.9" height="0.9"/><rect x="141.2" y="439.9" width="0.9" height="0.9"/><rect x="144.1" y="439.9" width="0.9" height="0.9"/><rect x="142.8" y="419.1" width="0.9" height="0.9"/><rect x="146.8" y="519.7" width="0.9" height="0.9"/><rect x="145.6" y="408.3" width="0.9" height="0.9"/><rect x="143.3" y="413.1" width="0.9" height="0.9"/><rect x="138.7" y="493.1" width="0.9" height="0.9"/><rect x="142.7" y="464.5" width="0.9" height="0.9"/><rect x="147.6" y="479.3" width="0.9" height="0.9"/><rect x="145.9" y="465.0" width="0.9" height="0.9"/><rect x="148.8" y="519.4" width="0.9" height="0.9"/><rect x="143.7" y="484.8" width="0.9" height="0.9"/><rect x="143.5" y="515.1" width="0.9" height="0.9"/><rect x="145.9" y="470.8" width="0.9" height="0.9"/><rect x="139.7" y="450.3" width="0.9" height="0.9"/><rect x="144.6" y="406.5" width="0.9" height="0.9"/><rect x="143.5" y="440.0" width="0.9" height="0.9"/><rect x="141.4" y="460.3" width="0.9" height="0.9"/><rect x="141.0" y="434.1" width="0.9" height="0.9"/><rect x="147.1" y="493.0" width="0.9" height="0.9"/><rect x="145.7" y="518.8" width="0.9" height="0.9"/><rect x="144.0" y="443.8" width="0.9" height="0.9"/><rect x="144.0" y="410.1" width="0.9" height="0.9"/><rect x="147.7" y="476.9" width="0.9" height="0.9"/><rect x="144.3" y="432.2" width="0.9" height="0.9"/><rect x="144.9" y="424.6" width="0.9" height="0.9"/><rect x="143.5" y="463.7" width="0.9" height="0.9"/><rect x="149.9" y="471.3" width="0.9" height="0.9"/><rect x="142.9" y="444.2" width="0.9" height="0.9"/><rect x="144.1" y="491.7" width="0.9" height="0.9"/><rect x="140.5" y="493.9" width="0.9" height="0.9"/><rect x="147.3" y="436.0" width="0.9" height="0.9"/><rect x="144.0" y="429.6" width="0.9" height="0.9"/><rect x="145.7" y="476.3" width="0.9" height="0.9"/><rect x="143.5" y="480.7" width="0.9" height="0.9"/><rect x="146.3" y="495.7" width="0.9" height="0.9"/><rect x="141.1" y="460.9" width="0.9" height="0.9"/><rect x="146.2" y="455.4" width="0.9" height="0.9"/><rect x="140.3" y="427.2" width="0.9" height="0.9"/><rect x="146.3" y="489.5" width="0.9" height="0.9"/><rect x="149.9" y="513.7" width="0.9" height="0.9"/><rect x="153.6" y="499.8" width="0.9" height="0.9"/><rect x="145.3" y="489.3" width="0.9" height="0.9"/><rect x="147.5" y="497.0" width="0.9" height="0.9"/><rect x="150.6" y="511.8" width="0.9" height="0.9"/><rect x="150.5" y="517.6" width="0.9" height="0.9"/><rect x="147.7" y="438.5" width="0.9" height="0.9"/><rect x="138.5" y="455.6" width="0.9" height="0.9"/><rect x="144.9" y="420.6" width="0.9" height="0.9"/><rect x="149.2" y="454.1" width="0.9" height="0.9"/><rect x="137.3" y="441.2" width="0.9" height="0.9"/><rect x="146.1" y="433.7" width="0.9" height="0.9"/><rect x="146.2" y="405.2" width="0.9" height="0.9"/><rect x="142.9" y="449.6" width="0.9" height="0.9"/><rect x="147.4" y="521.1" width="0.9" height="0.9"/><rect x="148.9" y="510.4" width="0.9" height="0.9"/><rect x="145.0" y="432.5" width="0.9" height="0.9"/><rect x="150.7" y="430.8" width="0.9" height="0.9"/><rect x="146.4" y="512.0" width="0.9" height="0.9"/><rect x="145.9" y="429.1" width="0.9" height="0.9"/><rect x="140.9" y="468.6" width="0.9" height="0.9"/><rect x="142.6" y="464.4" width="0.9" height="0.9"/><rect x="147.4" y="439.1" width="0.9" height="0.9"/><rect x="137.7" y="494.1" width="0.9" height="0.9"/><rect x="149.8" y="502.2" width="0.9" height="0.9"/><rect x="144.7" y="427.6" width="0.9" height="0.9"/><rect x="150.1" y="421.7" width="0.9" height="0.9"/><rect x="146.4" y="513.6" width="0.9" height="0.9"/><rect x="146.1" y="470.5" width="0.9" height="0.9"/><rect x="145.8" y="409.8" width="0.9" height="0.9"/><rect x="147.5" y="512.5" width="0.9" height="0.9"/><rect x="150.2" y="517.4" width="0.9" height="0.9"/><rect x="146.0" y="427.3" width="0.9" height="0.9"/><rect x="142.5" y="483.4" width="0.9" height="0.9"/><rect x="146.1" y="415.9" width="0.9" height="0.9"/><rect x="141.9" y="444.8" width="0.9" height="0.9"/><rect x="141.8" y="482.2" width="0.9" height="0.9"/><rect x="142.4" y="418.0" width="0.9" height="0.9"/><rect x="149.7" y="472.6" width="0.9" height="0.9"/><rect x="144.6" y="444.6" width="0.9" height="0.9"/><rect x="143.0" y="423.5" width="0.9" height="0.9"/><rect x="145.0" y="441.3" width="0.9" height="0.9"/><rect x="141.4" y="468.7" width="0.9" height="0.9"/><rect x="145.2" y="438.2" width="0.9" height="0.9"/><rect x="144.3" y="461.9" width="0.9" height="0.9"/><rect x="144.5" y="495.9" width="0.9" height="0.9"/><rect x="145.0" y="461.4" width="0.9" height="0.9"/><rect x="149.0" y="505.6" width="0.9" height="0.9"/><rect x="141.0" y="461.0" width="0.9" height="0.9"/><rect x="150.1" y="505.4" width="0.9" height="0.9"/><rect x="141.9" y="448.4" width="0.9" height="0.9"/><rect x="145.9" y="404.3" width="0.9" height="0.9"/><rect x="140.2" y="468.9" width="0.9" height="0.9"/><rect x="144.2" y="457.6" width="0.9" height="0.9"/><rect x="143.3" y="460.2" width="0.9" height="0.9"/><rect x="145.8" y="521.7" width="0.9" height="0.9"/><rect x="144.9" y="416.9" width="0.9" height="0.9"/><rect x="146.3" y="499.2" width="0.9" height="0.9"/><rect x="147.0" y="434.5" width="0.9" height="0.9"/><rect x="149.5" y="504.5" width="0.9" height="0.9"/><rect x="153.7" y="505.3" width="0.9" height="0.9"/><rect x="137.9" y="409.4" width="0.9" height="0.9"/><rect x="147.6" y="448.9" width="0.9" height="0.9"/><rect x="146.8" y="457.6" width="0.9" height="0.9"/><rect x="146.9" y="493.0" width="0.9" height="0.9"/><rect x="133.0" y="484.9" width="0.9" height="0.9"/><rect x="146.5" y="508.9" width="0.9" height="0.9"/><rect x="147.3" y="510.8" width="0.9" height="0.9"/><rect x="148.5" y="414.0" width="0.9" height="0.9"/><rect x="146.6" y="436.9" width="0.9" height="0.9"/><rect x="145.7" y="483.2" width="0.9" height="0.9"/><rect x="144.1" y="489.6" width="0.9" height="0.9"/><rect x="136.7" y="407.6" width="0.9" height="0.9"/><rect x="143.2" y="428.9" width="0.9" height="0.9"/><rect x="143.5" y="488.3" width="0.9" height="0.9"/><rect x="143.5" y="495.7" width="0.9" height="0.9"/><rect x="145.7" y="487.5" width="0.9" height="0.9"/><rect x="143.9" y="467.9" width="0.9" height="0.9"/><rect x="148.5" y="520.4" width="0.9" height="0.9"/><rect x="147.6" y="418.5" width="0.9" height="0.9"/><rect x="144.3" y="505.5" width="0.9" height="0.9"/><rect x="144.9" y="484.0" width="0.9" height="0.9"/><rect x="143.0" y="419.5" width="0.9" height="0.9"/><rect x="142.4" y="507.0" width="0.9" height="0.9"/><rect x="143.9" y="437.1" width="0.9" height="0.9"/><rect x="149.5" y="511.8" width="0.9" height="0.9"/><rect x="140.9" y="456.0" width="0.9" height="0.9"/><rect x="146.0" y="487.5" width="0.9" height="0.9"/><rect x="141.1" y="441.5" width="0.9" height="0.9"/><rect x="152.1" y="497.0" width="0.9" height="0.9"/><rect x="149.9" y="438.8" width="0.9" height="0.9"/><rect x="146.8" y="491.3" width="0.9" height="0.9"/><rect x="137.4" y="474.9" width="0.9" height="0.9"/><rect x="148.0" y="455.1" width="0.9" height="0.9"/><rect x="146.0" y="429.2" width="0.9" height="0.9"/><rect x="145.3" y="475.7" width="0.9" height="0.9"/><rect x="147.8" y="447.1" width="0.9" height="0.9"/><rect x="142.3" y="458.4" width="0.9" height="0.9"/><rect x="140.4" y="482.9" width="0.9" height="0.9"/><rect x="141.2" y="462.9" width="0.9" height="0.9"/><rect x="138.0" y="466.3" width="0.9" height="0.9"/><rect x="144.0" y="426.2" width="0.9" height="0.9"/><rect x="146.0" y="498.0" width="0.9" height="0.9"/><rect x="149.3" y="411.8" width="0.9" height="0.9"/><rect x="139.3" y="461.7" width="0.9" height="0.9"/><rect x="145.4" y="427.5" width="0.9" height="0.9"/><rect x="146.3" y="434.8" width="0.9" height="0.9"/><rect x="146.6" y="472.8" width="0.9" height="0.9"/><rect x="144.6" y="403.1" width="0.9" height="0.9"/><rect x="149.5" y="518.8" width="0.9" height="0.9"/><rect x="141.4" y="458.1" width="0.9" height="0.9"/><rect x="142.7" y="482.8" width="0.9" height="0.9"/><rect x="147.6" y="501.4" width="0.9" height="0.9"/><rect x="143.6" y="456.2" width="0.9" height="0.9"/><rect x="148.8" y="462.1" width="0.9" height="0.9"/><rect x="145.2" y="441.6" width="0.9" height="0.9"/><rect x="140.9" y="438.5" width="0.9" height="0.9"/><rect x="140.9" y="463.1" width="0.9" height="0.9"/><rect x="145.0" y="507.0" width="0.9" height="0.9"/><rect x="143.4" y="410.8" width="0.9" height="0.9"/><rect x="141.3" y="469.9" width="0.9" height="0.9"/><rect x="146.5" y="445.0" width="0.9" height="0.9"/><rect x="145.4" y="403.8" width="0.9" height="0.9"/><rect x="144.1" y="414.4" width="0.9" height="0.9"/><rect x="145.8" y="506.0" width="0.9" height="0.9"/><rect x="142.6" y="489.0" width="0.9" height="0.9"/><rect x="148.3" y="479.8" width="0.9" height="0.9"/><rect x="145.6" y="430.7" width="0.9" height="0.9"/><rect x="149.2" y="523.7" width="0.9" height="0.9"/><rect x="145.6" y="433.1" width="0.9" height="0.9"/><rect x="149.3" y="507.3" width="0.9" height="0.9"/><rect x="140.1" y="421.0" width="0.9" height="0.9"/><rect x="143.4" y="454.9" width="0.9" height="0.9"/><rect x="146.7" y="514.4" width="0.9" height="0.9"/><rect x="151.9" y="504.8" width="0.9" height="0.9"/><rect x="141.8" y="477.7" width="0.9" height="0.9"/><rect x="147.4" y="521.0" width="0.9" height="0.9"/><rect x="146.2" y="417.9" width="0.9" height="0.9"/><rect x="144.1" y="424.8" width="0.9" height="0.9"/><rect x="142.4" y="493.0" width="0.9" height="0.9"/><rect x="147.3" y="450.9" width="0.9" height="0.9"/><rect x="140.2" y="486.1" width="0.9" height="0.9"/><rect x="150.0" y="505.2" width="0.9" height="0.9"/><rect x="144.3" y="447.6" width="0.9" height="0.9"/><rect x="140.7" y="454.9" width="0.9" height="0.9"/><rect x="138.3" y="492.5" width="0.9" height="0.9"/><rect x="146.8" y="515.4" width="0.9" height="0.9"/><rect x="141.0" y="464.4" width="0.9" height="0.9"/><rect x="144.8" y="493.6" width="0.9" height="0.9"/><rect x="141.1" y="446.0" width="0.9" height="0.9"/><rect x="144.5" y="477.4" width="0.9" height="0.9"/><rect x="149.9" y="403.0" width="0.9" height="0.9"/></g>
<text x="150.80" y="537.00" font-family="Liberation Serif" font-size="7.9" font-weight="bold" fill="#111" text-anchor="middle" >P6217</text>
</svg>
</body></html>
